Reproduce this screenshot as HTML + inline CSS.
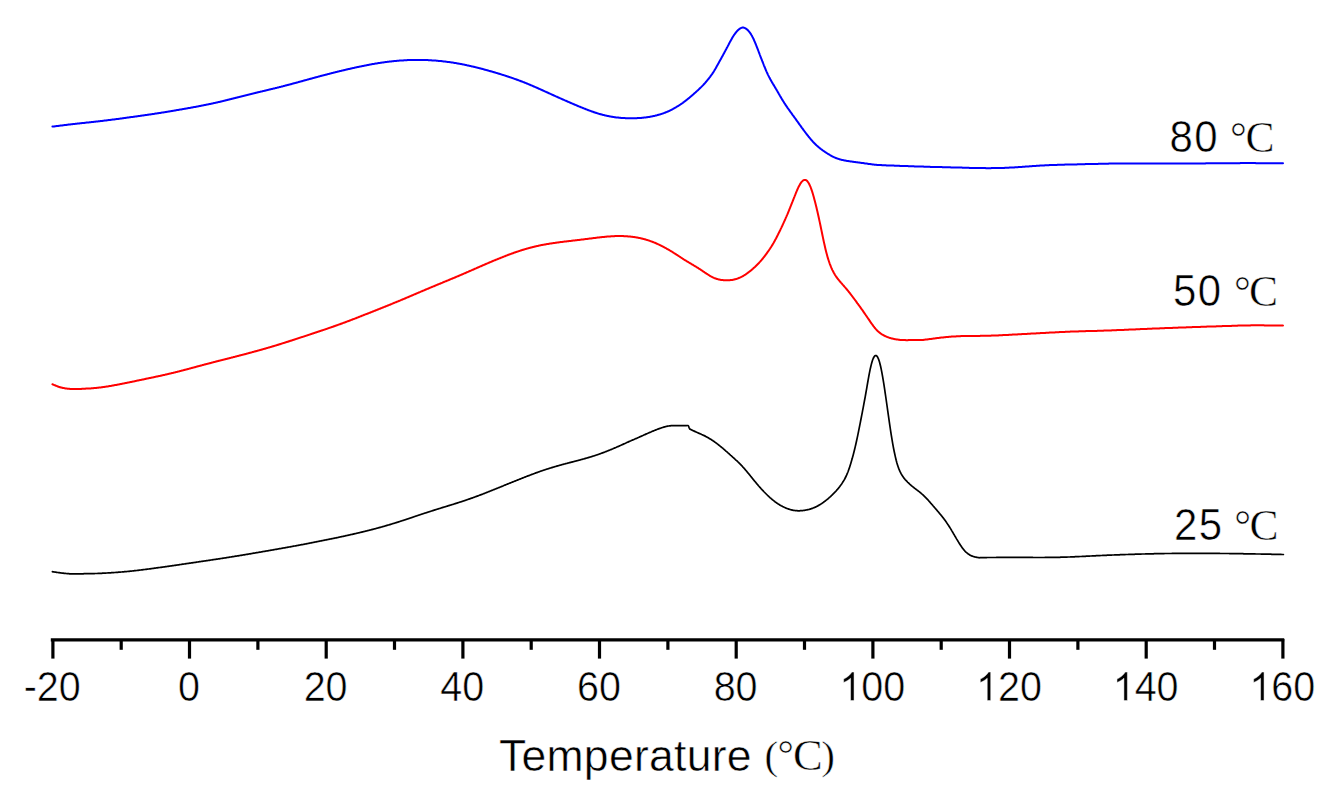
<!DOCTYPE html>
<html><head><meta charset="utf-8"><style>
html,body{margin:0;padding:0;background:#fff;}
body{width:1334px;height:805px;overflow:hidden;}
svg{display:block;}
.s{font-family:"Liberation Sans",sans-serif;}
.r{font-family:"Liberation Serif",serif;}
</style></head><body>
<svg width="1334" height="805" viewBox="0 0 1334 805">
<rect width="1334" height="805" fill="#fff"/>
<g fill="none" stroke-width="2.0" stroke-linejoin="round" stroke-linecap="round">
<path stroke="#0000ff" d="M52.4,126.6 52.9,126.6 53.4,126.5 53.9,126.4 54.4,126.4 54.9,126.3 55.4,126.2 55.9,126.2 56.4,126.1 56.9,126.1 57.4,126.0 57.9,125.9 58.4,125.9 58.9,125.8 59.4,125.7 59.9,125.7 60.4,125.6 60.9,125.5 61.4,125.5 61.9,125.4 62.4,125.4 62.9,125.3 63.4,125.2 63.9,125.2 64.4,125.1 64.9,125.0 65.4,125.0 65.9,124.9 66.4,124.9 66.9,124.8 67.4,124.7 67.9,124.7 68.4,124.6 68.9,124.6 69.4,124.5 69.9,124.4 70.4,124.4 70.9,124.3 71.4,124.3 71.9,124.2 72.4,124.2 72.9,124.1 73.4,124.0 73.9,124.0 74.4,123.9 74.9,123.9 75.4,123.8 75.9,123.8 76.4,123.7 76.9,123.7 77.4,123.6 77.9,123.5 78.4,123.5 78.9,123.4 79.4,123.4 79.9,123.3 80.4,123.3 80.9,123.2 81.4,123.2 81.9,123.1 82.4,123.1 82.9,123.0 83.4,123.0 83.9,122.9 84.4,122.9 84.9,122.8 85.4,122.7 85.9,122.7 86.4,122.6 86.9,122.6 87.4,122.5 87.9,122.5 88.4,122.4 88.9,122.4 89.4,122.3 89.9,122.3 90.4,122.2 90.9,122.2 91.4,122.1 91.9,122.0 92.4,122.0 92.9,121.9 93.4,121.9 93.9,121.8 94.4,121.8 94.9,121.7 95.4,121.7 95.9,121.6 96.4,121.6 96.9,121.5 97.4,121.4 97.9,121.4 98.4,121.3 98.9,121.3 99.4,121.2 99.9,121.2 100.4,121.1 100.9,121.0 101.4,121.0 101.9,120.9 102.4,120.9 102.9,120.8 103.4,120.7 103.9,120.7 104.4,120.6 104.9,120.6 105.4,120.5 105.9,120.5 106.4,120.4 106.9,120.3 107.4,120.3 107.9,120.2 108.4,120.1 108.9,120.1 109.4,120.0 109.9,120.0 110.4,119.9 110.9,119.8 111.4,119.8 111.9,119.7 112.4,119.6 112.9,119.6 113.4,119.5 113.9,119.4 114.4,119.4 114.9,119.3 115.4,119.3 115.9,119.2 116.4,119.1 116.9,119.1 117.4,119.0 117.9,118.9 118.4,118.9 118.9,118.8 119.4,118.7 119.9,118.7 120.4,118.6 120.9,118.5 121.4,118.4 121.9,118.4 122.4,118.3 122.9,118.2 123.4,118.2 123.9,118.1 124.4,118.0 124.9,118.0 125.4,117.9 125.9,117.8 126.4,117.8 126.9,117.7 127.4,117.6 127.9,117.6 128.4,117.5 128.9,117.4 129.4,117.3 129.9,117.3 130.4,117.2 130.9,117.1 131.4,117.1 131.9,117.0 132.4,116.9 132.9,116.9 133.4,116.8 133.9,116.7 134.4,116.7 134.9,116.6 135.4,116.5 135.9,116.4 136.4,116.4 136.9,116.3 137.4,116.2 137.9,116.2 138.4,116.1 138.9,116.0 139.4,115.9 139.9,115.9 140.4,115.8 140.9,115.7 141.4,115.7 141.9,115.6 142.4,115.5 142.9,115.5 143.4,115.4 143.9,115.3 144.4,115.2 144.9,115.2 145.4,115.1 145.9,115.0 146.4,115.0 146.9,114.9 147.4,114.8 147.9,114.7 148.4,114.7 148.9,114.6 149.4,114.5 149.9,114.4 150.4,114.4 150.9,114.3 151.4,114.2 151.9,114.2 152.4,114.1 152.9,114.0 153.4,113.9 153.9,113.9 154.4,113.8 154.9,113.7 155.4,113.6 155.9,113.6 156.4,113.5 156.9,113.4 157.4,113.3 157.9,113.3 158.4,113.2 158.9,113.1 159.4,113.0 159.9,112.9 160.4,112.9 160.9,112.8 161.4,112.7 161.9,112.6 162.4,112.6 162.9,112.5 163.4,112.4 163.9,112.3 164.4,112.2 164.9,112.2 165.4,112.1 165.9,112.0 166.4,111.9 166.9,111.8 167.4,111.7 167.9,111.7 168.4,111.6 168.9,111.5 169.4,111.4 169.9,111.3 170.4,111.2 170.9,111.2 171.4,111.1 171.9,111.0 172.4,110.9 172.9,110.8 173.4,110.7 173.9,110.7 174.4,110.6 174.9,110.5 175.4,110.4 175.9,110.3 176.4,110.2 176.9,110.1 177.4,110.1 177.9,110.0 178.4,109.9 178.9,109.8 179.4,109.7 179.9,109.6 180.4,109.5 180.9,109.5 181.4,109.4 181.9,109.3 182.4,109.2 182.9,109.1 183.4,109.0 183.9,108.9 184.4,108.8 184.9,108.8 185.4,108.7 185.9,108.6 186.4,108.5 186.9,108.4 187.4,108.3 187.9,108.2 188.4,108.1 188.9,108.1 189.4,108.0 189.9,107.9 190.4,107.8 190.9,107.7 191.4,107.6 191.9,107.5 192.4,107.4 192.9,107.3 193.4,107.2 193.9,107.1 194.4,107.1 194.9,107.0 195.4,106.9 195.9,106.8 196.4,106.7 196.9,106.6 197.4,106.5 197.9,106.4 198.4,106.3 198.9,106.2 199.4,106.1 199.9,106.0 200.4,105.9 200.9,105.8 201.4,105.7 201.9,105.6 202.4,105.5 202.9,105.4 203.4,105.3 203.9,105.2 204.4,105.1 204.9,105.0 205.4,104.9 205.9,104.8 206.4,104.7 206.9,104.6 207.4,104.5 207.9,104.4 208.4,104.3 208.9,104.2 209.4,104.1 209.9,104.0 210.4,103.9 210.9,103.8 211.4,103.7 211.9,103.6 212.4,103.5 212.9,103.4 213.4,103.2 213.9,103.1 214.4,103.0 214.9,102.9 215.4,102.8 215.9,102.7 216.4,102.6 216.9,102.5 217.4,102.4 217.9,102.2 218.4,102.1 218.9,102.0 219.4,101.9 219.9,101.8 220.4,101.7 220.9,101.5 221.4,101.4 221.9,101.3 222.4,101.2 222.9,101.1 223.4,100.9 223.9,100.8 224.4,100.7 224.9,100.6 225.4,100.5 225.9,100.3 226.4,100.2 226.9,100.1 227.4,100.0 227.9,99.8 228.4,99.7 228.9,99.6 229.4,99.5 229.9,99.3 230.4,99.2 230.9,99.1 231.4,99.0 231.9,98.8 232.4,98.7 232.9,98.6 233.4,98.5 233.9,98.3 234.4,98.2 234.9,98.1 235.4,98.0 235.9,97.8 236.4,97.7 236.9,97.6 237.4,97.5 237.9,97.3 238.4,97.2 238.9,97.1 239.4,96.9 239.9,96.8 240.4,96.7 240.9,96.6 241.4,96.4 241.9,96.3 242.4,96.2 242.9,96.1 243.4,95.9 243.9,95.8 244.4,95.7 244.9,95.6 245.4,95.4 245.9,95.3 246.4,95.2 246.9,95.1 247.4,94.9 247.9,94.8 248.4,94.7 248.9,94.6 249.4,94.4 249.9,94.3 250.4,94.2 250.9,94.1 251.4,93.9 251.9,93.8 252.4,93.7 252.9,93.6 253.4,93.4 253.9,93.3 254.4,93.2 254.9,93.1 255.4,93.0 255.9,92.8 256.4,92.7 256.9,92.6 257.4,92.5 257.9,92.3 258.4,92.2 258.9,92.1 259.4,92.0 259.9,91.9 260.4,91.7 260.9,91.6 261.4,91.5 261.9,91.4 262.4,91.3 262.9,91.1 263.4,91.0 263.9,90.9 264.4,90.8 264.9,90.7 265.4,90.5 265.9,90.4 266.4,90.3 266.9,90.2 267.4,90.1 267.9,89.9 268.4,89.8 268.9,89.7 269.4,89.6 269.9,89.5 270.4,89.3 270.9,89.2 271.4,89.1 271.9,89.0 272.4,88.9 272.9,88.7 273.4,88.6 273.9,88.5 274.4,88.4 274.9,88.3 275.4,88.1 275.9,88.0 276.4,87.9 276.9,87.8 277.4,87.6 277.9,87.5 278.4,87.4 278.9,87.3 279.4,87.1 279.9,87.0 280.4,86.9 280.9,86.8 281.4,86.6 281.9,86.5 282.4,86.4 282.9,86.3 283.4,86.1 283.9,86.0 284.4,85.9 284.9,85.7 285.4,85.6 285.9,85.5 286.4,85.3 286.9,85.2 287.4,85.1 287.9,85.0 288.4,84.8 288.9,84.7 289.4,84.6 289.9,84.4 290.4,84.3 290.9,84.2 291.4,84.0 291.9,83.9 292.4,83.7 292.9,83.6 293.4,83.5 293.9,83.3 294.4,83.2 294.9,83.1 295.4,82.9 295.9,82.8 296.4,82.7 296.9,82.5 297.4,82.4 297.9,82.3 298.4,82.1 298.9,82.0 299.4,81.8 299.9,81.7 300.4,81.6 300.9,81.4 301.4,81.3 301.9,81.2 302.4,81.0 302.9,80.9 303.4,80.7 303.9,80.6 304.4,80.5 304.9,80.3 305.4,80.2 305.9,80.1 306.4,79.9 306.9,79.8 307.4,79.6 307.9,79.5 308.4,79.4 308.9,79.2 309.4,79.1 309.9,79.0 310.4,78.8 310.9,78.7 311.4,78.5 311.9,78.4 312.4,78.3 312.9,78.1 313.4,78.0 313.9,77.9 314.4,77.7 314.9,77.6 315.4,77.5 315.9,77.3 316.4,77.2 316.9,77.1 317.4,76.9 317.9,76.8 318.4,76.6 318.9,76.5 319.4,76.4 319.9,76.2 320.4,76.1 320.9,76.0 321.4,75.8 321.9,75.7 322.4,75.6 322.9,75.4 323.4,75.3 323.9,75.2 324.4,75.1 324.9,74.9 325.4,74.8 325.9,74.7 326.4,74.5 326.9,74.4 327.4,74.3 327.9,74.1 328.4,74.0 328.9,73.9 329.4,73.8 329.9,73.6 330.4,73.5 330.9,73.4 331.4,73.2 331.9,73.1 332.4,73.0 332.9,72.9 333.4,72.7 333.9,72.6 334.4,72.5 334.9,72.4 335.4,72.2 335.9,72.1 336.4,72.0 336.9,71.9 337.4,71.7 337.9,71.6 338.4,71.5 338.9,71.4 339.4,71.2 339.9,71.1 340.4,71.0 340.9,70.9 341.4,70.8 341.9,70.6 342.4,70.5 342.9,70.4 343.4,70.3 343.9,70.2 344.4,70.0 344.9,69.9 345.4,69.8 345.9,69.7 346.4,69.6 346.9,69.5 347.4,69.3 347.9,69.2 348.4,69.1 348.9,69.0 349.4,68.9 349.9,68.8 350.4,68.7 350.9,68.5 351.4,68.4 351.9,68.3 352.4,68.2 352.9,68.1 353.4,68.0 353.9,67.9 354.4,67.8 354.9,67.6 355.4,67.5 355.9,67.4 356.4,67.3 356.9,67.2 357.4,67.1 357.9,67.0 358.4,66.9 358.9,66.8 359.4,66.7 359.9,66.6 360.4,66.5 360.9,66.4 361.4,66.3 361.9,66.2 362.4,66.1 362.9,66.0 363.4,65.9 363.9,65.8 364.4,65.7 364.9,65.6 365.4,65.5 365.9,65.4 366.4,65.3 366.9,65.2 367.4,65.1 367.9,65.0 368.4,64.9 368.9,64.8 369.4,64.7 369.9,64.6 370.4,64.5 370.9,64.4 371.4,64.3 371.9,64.2 372.4,64.1 372.9,64.0 373.4,64.0 373.9,63.9 374.4,63.8 374.9,63.7 375.4,63.6 375.9,63.5 376.4,63.4 376.9,63.4 377.4,63.3 377.9,63.2 378.4,63.1 378.9,63.0 379.4,63.0 379.9,62.9 380.4,62.8 380.9,62.7 381.4,62.7 381.9,62.6 382.4,62.5 382.9,62.4 383.4,62.4 383.9,62.3 384.4,62.2 384.9,62.2 385.4,62.1 385.9,62.0 386.4,62.0 386.9,61.9 387.4,61.8 387.9,61.8 388.4,61.7 388.9,61.7 389.4,61.6 389.9,61.5 390.4,61.5 390.9,61.4 391.4,61.4 391.9,61.3 392.4,61.3 392.9,61.2 393.4,61.2 393.9,61.1 394.4,61.1 394.9,61.0 395.4,61.0 395.9,60.9 396.4,60.9 396.9,60.8 397.4,60.8 397.9,60.8 398.4,60.7 398.9,60.7 399.4,60.6 399.9,60.6 400.4,60.6 400.9,60.5 401.4,60.5 401.9,60.5 402.4,60.4 402.9,60.4 403.4,60.4 403.9,60.3 404.4,60.3 404.9,60.3 405.4,60.2 405.9,60.2 406.4,60.2 406.9,60.2 407.4,60.1 407.9,60.1 408.4,60.1 408.9,60.1 409.4,60.1 409.9,60.0 410.4,60.0 410.9,60.0 411.4,60.0 411.9,60.0 412.4,60.0 412.9,60.0 413.4,59.9 413.9,59.9 414.4,59.9 414.9,59.9 415.4,59.9 415.9,59.9 416.4,59.9 416.9,59.9 417.4,59.9 417.9,59.9 418.4,59.9 418.9,59.9 419.4,59.9 419.9,59.9 420.4,59.9 420.9,59.9 421.4,59.9 421.9,59.9 422.4,60.0 422.9,60.0 423.4,60.0 423.9,60.0 424.4,60.0 424.9,60.0 425.4,60.0 425.9,60.1 426.4,60.1 426.9,60.1 427.4,60.1 427.9,60.1 428.4,60.2 428.9,60.2 429.4,60.2 429.9,60.2 430.4,60.3 430.9,60.3 431.4,60.3 431.9,60.4 432.4,60.4 432.9,60.4 433.4,60.5 433.9,60.5 434.4,60.5 434.9,60.6 435.4,60.6 435.9,60.6 436.4,60.7 436.9,60.7 437.4,60.8 437.9,60.8 438.4,60.9 438.9,60.9 439.4,60.9 439.9,61.0 440.4,61.0 440.9,61.1 441.4,61.1 441.9,61.2 442.4,61.3 442.9,61.3 443.4,61.4 443.9,61.4 444.4,61.5 444.9,61.5 445.4,61.6 445.9,61.7 446.4,61.7 446.9,61.8 447.4,61.9 447.9,61.9 448.4,62.0 448.9,62.1 449.4,62.1 449.9,62.2 450.4,62.3 450.9,62.3 451.4,62.4 451.9,62.5 452.4,62.6 452.9,62.6 453.4,62.7 453.9,62.8 454.4,62.9 454.9,63.0 455.4,63.0 455.9,63.1 456.4,63.2 456.9,63.3 457.4,63.4 457.9,63.5 458.4,63.6 458.9,63.7 459.4,63.8 459.9,63.8 460.4,63.9 460.9,64.0 461.4,64.1 461.9,64.2 462.4,64.3 462.9,64.4 463.4,64.5 463.9,64.6 464.4,64.7 464.9,64.8 465.4,64.9 465.9,65.0 466.4,65.1 466.9,65.3 467.4,65.4 467.9,65.5 468.4,65.6 468.9,65.7 469.4,65.8 469.9,65.9 470.4,66.0 470.9,66.1 471.4,66.3 471.9,66.4 472.4,66.5 472.9,66.6 473.4,66.7 473.9,66.8 474.4,67.0 474.9,67.1 475.4,67.2 475.9,67.3 476.4,67.4 476.9,67.6 477.4,67.7 477.9,67.8 478.4,67.9 478.9,68.1 479.4,68.2 479.9,68.3 480.4,68.5 480.9,68.6 481.4,68.7 481.9,68.8 482.4,69.0 482.9,69.1 483.4,69.2 483.9,69.4 484.4,69.5 484.9,69.7 485.4,69.8 485.9,69.9 486.4,70.1 486.9,70.2 487.4,70.3 487.9,70.5 488.4,70.6 488.9,70.8 489.4,70.9 489.9,71.0 490.4,71.2 490.9,71.3 491.4,71.5 491.9,71.6 492.4,71.7 492.9,71.9 493.4,72.0 493.9,72.2 494.4,72.3 494.9,72.5 495.4,72.6 495.9,72.8 496.4,72.9 496.9,73.1 497.4,73.2 497.9,73.4 498.4,73.5 498.9,73.7 499.4,73.8 499.9,74.0 500.4,74.1 500.9,74.3 501.4,74.4 501.9,74.6 502.4,74.8 502.9,74.9 503.4,75.1 503.9,75.2 504.4,75.4 504.9,75.6 505.4,75.7 505.9,75.9 506.4,76.0 506.9,76.2 507.4,76.4 507.9,76.5 508.4,76.7 508.9,76.9 509.4,77.0 509.9,77.2 510.4,77.4 510.9,77.6 511.4,77.7 511.9,77.9 512.4,78.1 512.9,78.2 513.4,78.4 513.9,78.6 514.4,78.8 514.9,78.9 515.4,79.1 515.9,79.3 516.4,79.5 516.9,79.7 517.4,79.8 517.9,80.0 518.4,80.2 518.9,80.4 519.4,80.6 519.9,80.8 520.4,81.0 520.9,81.2 521.4,81.3 521.9,81.5 522.4,81.7 522.9,81.9 523.4,82.1 523.9,82.3 524.4,82.5 524.9,82.7 525.4,82.9 525.9,83.1 526.4,83.3 526.9,83.5 527.4,83.7 527.9,83.9 528.4,84.1 528.9,84.3 529.4,84.6 529.9,84.8 530.4,85.0 530.9,85.2 531.4,85.4 531.9,85.6 532.4,85.8 532.9,86.0 533.4,86.3 533.9,86.5 534.4,86.7 534.9,86.9 535.4,87.1 535.9,87.3 536.4,87.6 536.9,87.8 537.4,88.0 537.9,88.2 538.4,88.5 538.9,88.7 539.4,88.9 539.9,89.1 540.4,89.3 540.9,89.6 541.4,89.8 541.9,90.0 542.4,90.2 542.9,90.5 543.4,90.7 543.9,90.9 544.4,91.2 544.9,91.4 545.4,91.6 545.9,91.8 546.4,92.1 546.9,92.3 547.4,92.5 547.9,92.7 548.4,93.0 548.9,93.2 549.4,93.4 549.9,93.6 550.4,93.9 550.9,94.1 551.4,94.3 551.9,94.6 552.4,94.8 552.9,95.0 553.4,95.2 553.9,95.5 554.4,95.7 554.9,95.9 555.4,96.1 555.9,96.4 556.4,96.6 556.9,96.8 557.4,97.0 557.9,97.3 558.4,97.5 558.9,97.7 559.4,97.9 559.9,98.1 560.4,98.4 560.9,98.6 561.4,98.8 561.9,99.0 562.4,99.3 562.9,99.5 563.4,99.7 563.9,99.9 564.4,100.1 564.9,100.4 565.4,100.6 565.9,100.8 566.4,101.0 566.9,101.2 567.4,101.5 567.9,101.7 568.4,101.9 568.9,102.1 569.4,102.3 569.9,102.5 570.4,102.8 570.9,103.0 571.4,103.2 571.9,103.4 572.4,103.6 572.9,103.8 573.4,104.1 573.9,104.3 574.4,104.5 574.9,104.7 575.4,104.9 575.9,105.1 576.4,105.3 576.9,105.5 577.4,105.8 577.9,106.0 578.4,106.2 578.9,106.4 579.4,106.6 579.9,106.8 580.4,107.0 580.9,107.2 581.4,107.4 581.9,107.6 582.4,107.8 582.9,108.0 583.4,108.2 583.9,108.4 584.4,108.6 584.9,108.8 585.4,109.0 585.9,109.2 586.4,109.4 586.9,109.6 587.4,109.8 587.9,110.0 588.4,110.2 588.9,110.4 589.4,110.6 589.9,110.7 590.4,110.9 590.9,111.1 591.4,111.3 591.9,111.5 592.4,111.6 592.9,111.8 593.4,112.0 593.9,112.2 594.4,112.3 594.9,112.5 595.4,112.7 595.9,112.8 596.4,113.0 596.9,113.1 597.4,113.3 597.9,113.4 598.4,113.6 598.9,113.8 599.4,113.9 599.9,114.0 600.4,114.2 600.9,114.3 601.4,114.5 601.9,114.6 602.4,114.7 602.9,114.9 603.4,115.0 603.9,115.1 604.4,115.2 604.9,115.4 605.4,115.5 605.9,115.6 606.4,115.7 606.9,115.8 607.4,115.9 607.9,116.0 608.4,116.1 608.9,116.2 609.4,116.3 609.9,116.4 610.4,116.5 610.9,116.6 611.4,116.7 611.9,116.8 612.4,116.8 612.9,116.9 613.4,117.0 613.9,117.1 614.4,117.2 614.9,117.2 615.4,117.3 615.9,117.4 616.4,117.4 616.9,117.5 617.4,117.5 617.9,117.6 618.4,117.6 618.9,117.7 619.4,117.7 619.9,117.8 620.4,117.8 620.9,117.9 621.4,117.9 621.9,118.0 622.4,118.0 622.9,118.0 623.4,118.1 623.9,118.1 624.4,118.1 624.9,118.1 625.4,118.2 625.9,118.2 626.4,118.2 626.9,118.2 627.4,118.2 627.9,118.3 628.4,118.3 628.9,118.3 629.4,118.3 629.9,118.3 630.4,118.3 630.9,118.3 631.4,118.3 631.9,118.3 632.4,118.3 632.9,118.3 633.4,118.3 633.9,118.3 634.4,118.3 634.9,118.2 635.4,118.2 635.9,118.2 636.4,118.2 636.9,118.2 637.4,118.1 637.9,118.1 638.4,118.1 638.9,118.1 639.4,118.0 639.9,118.0 640.4,118.0 640.9,117.9 641.4,117.9 641.9,117.8 642.4,117.8 642.9,117.7 643.4,117.7 643.9,117.6 644.4,117.6 644.9,117.5 645.4,117.4 645.9,117.4 646.4,117.3 646.9,117.2 647.4,117.2 647.9,117.1 648.4,117.0 648.9,116.9 649.4,116.9 649.9,116.8 650.4,116.7 650.9,116.6 651.4,116.5 651.9,116.4 652.4,116.3 652.9,116.2 653.4,116.1 653.9,116.0 654.4,115.9 654.9,115.8 655.4,115.6 655.9,115.5 656.4,115.4 656.9,115.3 657.4,115.1 657.9,115.0 658.4,114.8 658.9,114.7 659.4,114.6 659.9,114.4 660.4,114.3 660.9,114.1 661.4,113.9 661.9,113.8 662.4,113.6 662.9,113.4 663.4,113.3 663.9,113.1 664.4,112.9 664.9,112.7 665.4,112.5 665.9,112.3 666.4,112.1 666.9,111.9 667.4,111.7 667.9,111.5 668.4,111.3 668.9,111.1 669.4,110.8 669.9,110.6 670.4,110.3 670.9,110.1 671.4,109.8 671.9,109.6 672.4,109.3 672.9,109.0 673.4,108.7 673.9,108.5 674.4,108.2 674.9,107.9 675.4,107.6 675.9,107.3 676.4,107.0 676.9,106.7 677.4,106.4 677.9,106.1 678.4,105.8 678.9,105.5 679.4,105.1 679.9,104.8 680.4,104.5 680.9,104.2 681.4,103.8 681.9,103.5 682.4,103.1 682.9,102.8 683.4,102.4 683.9,102.0 684.4,101.7 684.9,101.3 685.4,100.9 685.9,100.5 686.4,100.1 686.9,99.7 687.4,99.3 687.9,98.9 688.4,98.5 688.9,98.1 689.4,97.7 689.9,97.3 690.4,96.9 690.9,96.4 691.4,96.0 691.9,95.6 692.4,95.1 692.9,94.7 693.4,94.3 693.9,93.8 694.4,93.4 694.9,92.9 695.4,92.5 695.9,92.0 696.4,91.6 696.9,91.1 697.4,90.6 697.9,90.2 698.4,89.7 698.9,89.3 699.4,88.8 699.9,88.3 700.4,87.9 700.9,87.4 701.4,86.9 701.9,86.4 702.4,85.9 702.9,85.4 703.4,84.8 703.9,84.3 704.4,83.7 704.9,83.2 705.4,82.6 705.9,82.0 706.4,81.4 706.9,80.8 707.4,80.2 707.9,79.6 708.4,79.0 708.9,78.4 709.4,77.7 709.9,77.1 710.4,76.4 710.9,75.7 711.4,75.0 711.9,74.3 712.4,73.6 712.9,72.8 713.4,72.1 713.9,71.3 714.4,70.5 714.9,69.6 715.4,68.8 715.9,67.9 716.4,67.0 716.9,66.1 717.4,65.2 717.9,64.3 718.4,63.4 718.9,62.5 719.4,61.6 719.9,60.7 720.4,59.8 720.9,58.9 721.4,58.0 721.9,57.1 722.4,56.2 722.9,55.3 723.4,54.3 723.9,53.4 724.4,52.5 724.9,51.6 725.4,50.6 725.9,49.7 726.4,48.8 726.9,47.8 727.4,46.9 727.9,45.9 728.4,45.0 728.9,44.0 729.4,43.1 729.9,42.1 730.4,41.2 730.9,40.3 731.4,39.4 731.9,38.5 732.4,37.6 732.9,36.8 733.4,36.0 733.9,35.2 734.4,34.5 734.9,33.8 735.4,33.1 735.9,32.5 736.4,31.9 736.9,31.3 737.4,30.8 737.9,30.3 738.4,29.8 738.9,29.4 739.4,29.0 739.9,28.6 740.4,28.3 740.9,28.1 741.4,27.9 741.9,27.7 742.4,27.6 742.9,27.6 743.4,27.6 743.9,27.7 744.4,27.9 744.9,28.1 745.4,28.3 745.9,28.6 746.4,29.0 746.9,29.4 747.4,29.8 747.9,30.3 748.4,30.8 748.9,31.4 749.4,32.0 749.9,32.7 750.4,33.4 750.9,34.1 751.4,35.0 751.9,35.8 752.4,36.8 752.9,37.7 753.4,38.8 753.9,39.8 754.4,41.0 754.9,42.1 755.4,43.3 755.9,44.5 756.4,45.8 756.9,47.1 757.4,48.4 757.9,49.7 758.4,51.0 758.9,52.3 759.4,53.6 759.9,55.0 760.4,56.3 760.9,57.6 761.4,58.9 761.9,60.2 762.4,61.5 762.9,62.7 763.4,64.0 763.9,65.3 764.4,66.5 764.9,67.7 765.4,69.0 765.9,70.1 766.4,71.3 766.9,72.4 767.4,73.5 767.9,74.6 768.4,75.6 768.9,76.6 769.4,77.6 769.9,78.5 770.4,79.4 770.9,80.3 771.4,81.2 771.9,82.1 772.4,82.9 772.9,83.8 773.4,84.6 773.9,85.4 774.4,86.2 774.9,87.1 775.4,87.9 775.9,88.8 776.4,89.6 776.9,90.5 777.4,91.3 777.9,92.2 778.4,93.1 778.9,94.0 779.4,94.8 779.9,95.7 780.4,96.5 780.9,97.4 781.4,98.2 781.9,99.1 782.4,99.9 782.9,100.7 783.4,101.5 783.9,102.3 784.4,103.1 784.9,103.8 785.4,104.6 785.9,105.4 786.4,106.1 786.9,106.8 787.4,107.6 787.9,108.3 788.4,109.0 788.9,109.7 789.4,110.4 789.9,111.1 790.4,111.8 790.9,112.5 791.4,113.2 791.9,113.9 792.4,114.6 792.9,115.3 793.4,115.9 793.9,116.6 794.4,117.3 794.9,118.0 795.4,118.7 795.9,119.4 796.4,120.1 796.9,120.8 797.4,121.5 797.9,122.2 798.4,122.9 798.9,123.6 799.4,124.3 799.9,125.0 800.4,125.7 800.9,126.4 801.4,127.1 801.9,127.8 802.4,128.4 802.9,129.1 803.4,129.8 803.9,130.5 804.4,131.2 804.9,131.8 805.4,132.5 805.9,133.2 806.4,133.8 806.9,134.5 807.4,135.1 807.9,135.7 808.4,136.4 808.9,137.0 809.4,137.6 809.9,138.2 810.4,138.8 810.9,139.4 811.4,140.0 811.9,140.5 812.4,141.1 812.9,141.7 813.4,142.2 813.9,142.7 814.4,143.2 814.9,143.7 815.4,144.2 815.9,144.7 816.4,145.2 816.9,145.6 817.4,146.1 817.9,146.5 818.4,147.0 818.9,147.4 819.4,147.8 819.9,148.2 820.4,148.6 820.9,149.0 821.4,149.3 821.9,149.7 822.4,150.1 822.9,150.5 823.4,150.8 823.9,151.2 824.4,151.5 824.9,151.9 825.4,152.2 825.9,152.5 826.4,152.9 826.9,153.2 827.4,153.5 827.9,153.8 828.4,154.1 828.9,154.4 829.4,154.7 829.9,155.0 830.4,155.3 830.9,155.6 831.4,155.9 831.9,156.2 832.4,156.4 832.9,156.7 833.4,156.9 833.9,157.1 834.4,157.4 834.9,157.6 835.4,157.8 835.9,158.0 836.4,158.2 836.9,158.4 837.4,158.6 837.9,158.7 838.4,158.9 838.9,159.1 839.4,159.2 839.9,159.4 840.4,159.5 840.9,159.6 841.4,159.8 841.9,159.9 842.4,160.0 842.9,160.1 843.4,160.2 843.9,160.3 844.4,160.4 844.9,160.5 845.4,160.6 845.9,160.7 846.4,160.8 846.9,160.9 847.4,161.0 847.9,161.0 848.4,161.1 848.9,161.2 849.4,161.3 849.9,161.3 850.4,161.4 850.9,161.5 851.4,161.6 851.9,161.6 852.4,161.7 852.9,161.8 853.4,161.8 853.9,161.9 854.4,162.0 854.9,162.0 855.4,162.1 855.9,162.2 856.4,162.2 856.9,162.3 857.4,162.3 857.9,162.4 858.4,162.5 858.9,162.5 859.4,162.6 859.9,162.7 860.4,162.7 860.9,162.8 861.4,162.9 861.9,162.9 862.4,163.0 862.9,163.1 863.4,163.1 863.9,163.2 864.4,163.3 864.9,163.4 865.4,163.4 865.9,163.5 866.4,163.6 866.9,163.6 867.4,163.7 867.9,163.8 868.4,163.9 868.9,163.9 869.4,164.0 869.9,164.1 870.4,164.1 870.9,164.2 871.4,164.3 871.9,164.3 872.4,164.4 872.9,164.5 873.4,164.5 873.9,164.6 874.4,164.7 874.9,164.7 875.4,164.8 875.9,164.8 876.4,164.8 876.9,164.9 877.4,164.9 877.9,165.0 878.4,165.0 878.9,165.0 879.4,165.0 879.9,165.1 880.4,165.1 880.9,165.1 881.4,165.1 881.9,165.2 882.4,165.2 882.9,165.2 883.4,165.2 883.9,165.3 884.4,165.3 884.9,165.3 885.4,165.3 885.9,165.3 886.4,165.4 886.9,165.4 887.4,165.4 887.9,165.4 888.4,165.4 888.9,165.5 889.4,165.5 889.9,165.5 890.4,165.5 890.9,165.5 891.4,165.6 891.9,165.6 892.4,165.6 892.9,165.6 893.4,165.6 893.9,165.6 894.4,165.7 894.9,165.7 895.4,165.7 895.9,165.7 896.4,165.7 896.9,165.8 897.4,165.8 897.9,165.8 898.4,165.8 898.9,165.8 899.4,165.8 899.9,165.9 900.4,165.9 900.9,165.9 901.4,165.9 901.9,165.9 902.4,165.9 902.9,166.0 903.4,166.0 903.9,166.0 904.4,166.0 904.9,166.0 905.4,166.0 905.9,166.1 906.4,166.1 906.9,166.1 907.4,166.1 907.9,166.1 908.4,166.2 908.9,166.2 909.4,166.2 909.9,166.2 910.4,166.2 910.9,166.2 911.4,166.3 911.9,166.3 912.4,166.3 912.9,166.3 913.4,166.3 913.9,166.3 914.4,166.4 914.9,166.4 915.4,166.4 915.9,166.4 916.4,166.4 916.9,166.4 917.4,166.5 917.9,166.5 918.4,166.5 918.9,166.5 919.4,166.5 919.9,166.5 920.4,166.6 920.9,166.6 921.4,166.6 921.9,166.6 922.4,166.6 922.9,166.6 923.4,166.6 923.9,166.7 924.4,166.7 924.9,166.7 925.4,166.7 925.9,166.7 926.4,166.7 926.9,166.8 927.4,166.8 927.9,166.8 928.4,166.8 928.9,166.8 929.4,166.8 929.9,166.8 930.4,166.9 930.9,166.9 931.4,166.9 931.9,166.9 932.4,166.9 932.9,166.9 933.4,166.9 933.9,166.9 934.4,167.0 934.9,167.0 935.4,167.0 935.9,167.0 936.4,167.0 936.9,167.0 937.4,167.0 937.9,167.0 938.4,167.1 938.9,167.1 939.4,167.1 939.9,167.1 940.4,167.1 940.9,167.1 941.4,167.1 941.9,167.1 942.4,167.2 942.9,167.2 943.4,167.2 943.9,167.2 944.4,167.2 944.9,167.2 945.4,167.2 945.9,167.2 946.4,167.2 946.9,167.3 947.4,167.3 947.9,167.3 948.4,167.3 948.9,167.3 949.4,167.3 949.9,167.3 950.4,167.3 950.9,167.4 951.4,167.4 951.9,167.4 952.4,167.4 952.9,167.4 953.4,167.4 953.9,167.4 954.4,167.4 954.9,167.5 955.4,167.5 955.9,167.5 956.4,167.5 956.9,167.5 957.4,167.5 957.9,167.5 958.4,167.6 958.9,167.6 959.4,167.6 959.9,167.6 960.4,167.6 960.9,167.6 961.4,167.6 961.9,167.6 962.4,167.7 962.9,167.7 963.4,167.7 963.9,167.7 964.4,167.7 964.9,167.7 965.4,167.7 965.9,167.8 966.4,167.8 966.9,167.8 967.4,167.8 967.9,167.8 968.4,167.8 968.9,167.8 969.4,167.9 969.9,167.9 970.4,167.9 970.9,167.9 971.4,167.9 971.9,167.9 972.4,167.9 972.9,167.9 973.4,168.0 973.9,168.0 974.4,168.0 974.9,168.0 975.4,168.0 975.9,168.0 976.4,168.0 976.9,168.0 977.4,168.0 977.9,168.1 978.4,168.1 978.9,168.1 979.4,168.1 979.9,168.1 980.4,168.1 980.9,168.1 981.4,168.1 981.9,168.1 982.4,168.1 982.9,168.1 983.4,168.1 983.9,168.1 984.4,168.1 984.9,168.1 985.4,168.1 985.9,168.2 986.4,168.2 986.9,168.2 987.4,168.2 987.9,168.2 988.4,168.2 988.9,168.2 989.4,168.2 989.9,168.2 990.4,168.2 990.9,168.2 991.4,168.1 991.9,168.1 992.4,168.1 992.9,168.1 993.4,168.1 993.9,168.1 994.4,168.1 994.9,168.1 995.4,168.1 995.9,168.1 996.4,168.1 996.9,168.1 997.4,168.1 997.9,168.1 998.4,168.0 998.9,168.0 999.4,168.0 999.9,168.0 1000.4,168.0 1000.9,168.0 1001.4,168.0 1001.9,168.0 1002.4,167.9 1002.9,167.9 1003.4,167.9 1003.9,167.9 1004.4,167.9 1004.9,167.8 1005.4,167.8 1005.9,167.8 1006.4,167.8 1006.9,167.8 1007.4,167.7 1007.9,167.7 1008.4,167.7 1008.9,167.7 1009.4,167.6 1009.9,167.6 1010.4,167.6 1010.9,167.6 1011.4,167.5 1011.9,167.5 1012.4,167.5 1012.9,167.5 1013.4,167.4 1013.9,167.4 1014.4,167.4 1014.9,167.3 1015.4,167.3 1015.9,167.3 1016.4,167.2 1016.9,167.2 1017.4,167.2 1017.9,167.2 1018.4,167.1 1018.9,167.1 1019.4,167.1 1019.9,167.0 1020.4,167.0 1020.9,166.9 1021.4,166.9 1021.9,166.9 1022.4,166.8 1022.9,166.8 1023.4,166.8 1023.9,166.7 1024.4,166.7 1024.9,166.7 1025.4,166.6 1025.9,166.6 1026.4,166.6 1026.9,166.5 1027.4,166.5 1027.9,166.4 1028.4,166.4 1028.9,166.4 1029.4,166.3 1029.9,166.3 1030.4,166.3 1030.9,166.2 1031.4,166.2 1031.9,166.2 1032.4,166.1 1032.9,166.1 1033.4,166.0 1033.9,166.0 1034.4,166.0 1034.9,165.9 1035.4,165.9 1035.9,165.9 1036.4,165.8 1036.9,165.8 1037.4,165.8 1037.9,165.7 1038.4,165.7 1038.9,165.7 1039.4,165.7 1039.9,165.6 1040.4,165.6 1040.9,165.6 1041.4,165.5 1041.9,165.5 1042.4,165.5 1042.9,165.5 1043.4,165.4 1043.9,165.4 1044.4,165.4 1044.9,165.3 1045.4,165.3 1045.9,165.3 1046.4,165.3 1046.9,165.2 1047.4,165.2 1047.9,165.2 1048.4,165.2 1048.9,165.2 1049.4,165.1 1049.9,165.1 1050.4,165.1 1050.9,165.1 1051.4,165.1 1051.9,165.0 1052.4,165.0 1052.9,165.0 1053.4,165.0 1053.9,165.0 1054.4,164.9 1054.9,164.9 1055.4,164.9 1055.9,164.9 1056.4,164.9 1056.9,164.9 1057.4,164.8 1057.9,164.8 1058.4,164.8 1058.9,164.8 1059.4,164.8 1059.9,164.8 1060.4,164.8 1060.9,164.7 1061.4,164.7 1061.9,164.7 1062.4,164.7 1062.9,164.7 1063.4,164.7 1063.9,164.7 1064.4,164.7 1064.9,164.6 1065.4,164.6 1065.9,164.6 1066.4,164.6 1066.9,164.6 1067.4,164.6 1067.9,164.6 1068.4,164.6 1068.9,164.5 1069.4,164.5 1069.9,164.5 1070.4,164.5 1070.9,164.5 1071.4,164.5 1071.9,164.5 1072.4,164.5 1072.9,164.4 1073.4,164.4 1073.9,164.4 1074.4,164.4 1074.9,164.4 1075.4,164.4 1075.9,164.4 1076.4,164.4 1076.9,164.4 1077.4,164.3 1077.9,164.3 1078.4,164.3 1078.9,164.3 1079.4,164.3 1079.9,164.3 1080.4,164.3 1080.9,164.3 1081.4,164.2 1081.9,164.2 1082.4,164.2 1082.9,164.2 1083.4,164.2 1083.9,164.2 1084.4,164.2 1084.9,164.2 1085.4,164.1 1085.9,164.1 1086.4,164.1 1086.9,164.1 1087.4,164.1 1087.9,164.1 1088.4,164.1 1088.9,164.1 1089.4,164.1 1089.9,164.0 1090.4,164.0 1090.9,164.0 1091.4,164.0 1091.9,164.0 1092.4,164.0 1092.9,164.0 1093.4,164.0 1093.9,163.9 1094.4,163.9 1094.9,163.9 1095.4,163.9 1095.9,163.9 1096.4,163.9 1096.9,163.9 1097.4,163.9 1097.9,163.9 1098.4,163.8 1098.9,163.8 1099.4,163.8 1099.9,163.8 1100.4,163.8 1100.9,163.8 1101.4,163.8 1101.9,163.8 1102.4,163.8 1102.9,163.8 1103.4,163.7 1103.9,163.7 1104.4,163.7 1104.9,163.7 1105.4,163.7 1105.9,163.7 1106.4,163.7 1106.9,163.7 1107.4,163.7 1107.9,163.7 1108.4,163.7 1108.9,163.6 1109.4,163.6 1109.9,163.6 1110.4,163.6 1110.9,163.6 1111.4,163.6 1111.9,163.6 1112.4,163.6 1112.9,163.6 1113.4,163.6 1113.9,163.6 1114.4,163.6 1114.9,163.6 1115.4,163.6 1115.9,163.6 1116.4,163.5 1116.9,163.5 1117.4,163.5 1117.9,163.5 1118.4,163.5 1118.9,163.5 1119.4,163.5 1119.9,163.5 1120.4,163.5 1120.9,163.5 1121.4,163.5 1121.9,163.5 1122.4,163.5 1122.9,163.5 1123.4,163.5 1123.9,163.5 1124.4,163.5 1124.9,163.5 1125.4,163.5 1125.9,163.5 1126.4,163.5 1126.9,163.5 1127.4,163.5 1127.9,163.5 1128.4,163.5 1128.9,163.5 1129.4,163.4 1129.9,163.4 1130.4,163.4 1130.9,163.4 1131.4,163.4 1131.9,163.4 1132.4,163.4 1132.9,163.4 1133.4,163.4 1133.9,163.4 1134.4,163.4 1134.9,163.4 1135.4,163.4 1135.9,163.4 1136.4,163.4 1136.9,163.4 1137.4,163.4 1137.9,163.4 1138.4,163.4 1138.9,163.4 1139.4,163.4 1139.9,163.4 1140.4,163.4 1140.9,163.4 1141.4,163.4 1141.9,163.4 1142.4,163.4 1142.9,163.4 1143.4,163.4 1143.9,163.4 1144.4,163.4 1144.9,163.4 1145.4,163.4 1145.9,163.4 1146.4,163.4 1146.9,163.4 1147.4,163.5 1147.9,163.5 1148.4,163.5 1148.9,163.5 1149.4,163.5 1149.9,163.5 1150.4,163.5 1150.9,163.5 1151.4,163.5 1151.9,163.5 1152.4,163.5 1152.9,163.5 1153.4,163.5 1153.9,163.5 1154.4,163.5 1154.9,163.5 1155.4,163.5 1155.9,163.5 1156.4,163.5 1156.9,163.5 1157.4,163.5 1157.9,163.5 1158.4,163.5 1158.9,163.5 1159.4,163.5 1159.9,163.5 1160.4,163.5 1160.9,163.5 1161.4,163.5 1161.9,163.5 1162.4,163.5 1162.9,163.5 1163.4,163.5 1163.9,163.5 1164.4,163.5 1164.9,163.5 1165.4,163.5 1165.9,163.5 1166.4,163.5 1166.9,163.5 1167.4,163.5 1167.9,163.5 1168.4,163.5 1168.9,163.5 1169.4,163.5 1169.9,163.5 1170.4,163.5 1170.9,163.5 1171.4,163.5 1171.9,163.5 1172.4,163.5 1172.9,163.5 1173.4,163.5 1173.9,163.5 1174.4,163.5 1174.9,163.5 1175.4,163.5 1175.9,163.5 1176.4,163.5 1176.9,163.5 1177.4,163.5 1177.9,163.5 1178.4,163.5 1178.9,163.5 1179.4,163.5 1179.9,163.5 1180.4,163.5 1180.9,163.5 1181.4,163.5 1181.9,163.5 1182.4,163.5 1182.9,163.5 1183.4,163.5 1183.9,163.5 1184.4,163.5 1184.9,163.5 1185.4,163.5 1185.9,163.5 1186.4,163.5 1186.9,163.5 1187.4,163.5 1187.9,163.4 1188.4,163.4 1188.9,163.4 1189.4,163.4 1189.9,163.4 1190.4,163.4 1190.9,163.4 1191.4,163.4 1191.9,163.4 1192.4,163.4 1192.9,163.4 1193.4,163.4 1193.9,163.4 1194.4,163.4 1194.9,163.4 1195.4,163.4 1195.9,163.4 1196.4,163.4 1196.9,163.4 1197.4,163.4 1197.9,163.4 1198.4,163.4 1198.9,163.4 1199.4,163.4 1199.9,163.4 1200.4,163.4 1200.9,163.4 1201.4,163.4 1201.9,163.4 1202.4,163.4 1202.9,163.4 1203.4,163.4 1203.9,163.4 1204.4,163.4 1204.9,163.4 1205.4,163.4 1205.9,163.3 1206.4,163.3 1206.9,163.3 1207.4,163.3 1207.9,163.3 1208.4,163.3 1208.9,163.3 1209.4,163.3 1209.9,163.3 1210.4,163.3 1210.9,163.3 1211.4,163.3 1211.9,163.3 1212.4,163.3 1212.9,163.3 1213.4,163.3 1213.9,163.3 1214.4,163.3 1214.9,163.3 1215.4,163.3 1215.9,163.3 1216.4,163.3 1216.9,163.3 1217.4,163.3 1217.9,163.3 1218.4,163.3 1218.9,163.3 1219.4,163.3 1219.9,163.3 1220.4,163.2 1220.9,163.2 1221.4,163.2 1221.9,163.2 1222.4,163.2 1222.9,163.2 1223.4,163.2 1223.9,163.2 1224.4,163.2 1224.9,163.2 1225.4,163.2 1225.9,163.2 1226.4,163.2 1226.9,163.2 1227.4,163.2 1227.9,163.2 1228.4,163.2 1228.9,163.2 1229.4,163.2 1229.9,163.2 1230.4,163.2 1230.9,163.2 1231.4,163.2 1231.9,163.2 1232.4,163.2 1232.9,163.2 1233.4,163.2 1233.9,163.2 1234.4,163.2 1234.9,163.2 1235.4,163.2 1235.9,163.2 1236.4,163.2 1236.9,163.2 1237.4,163.2 1237.9,163.2 1238.4,163.2 1238.9,163.2 1239.4,163.2 1239.9,163.2 1240.4,163.1 1240.9,163.1 1241.4,163.1 1241.9,163.1 1242.4,163.1 1242.9,163.1 1243.4,163.1 1243.9,163.1 1244.4,163.1 1244.9,163.1 1245.4,163.1 1245.9,163.1 1246.4,163.1 1246.9,163.1 1247.4,163.1 1247.9,163.1 1248.4,163.1 1248.9,163.1 1249.4,163.1 1249.9,163.1 1250.4,163.1 1250.9,163.1 1251.4,163.1 1251.9,163.1 1252.4,163.1 1252.9,163.1 1253.4,163.1 1253.9,163.1 1254.4,163.1 1254.9,163.1 1255.4,163.1 1255.9,163.2 1256.4,163.2 1256.9,163.2 1257.4,163.2 1257.9,163.2 1258.4,163.2 1258.9,163.2 1259.4,163.2 1259.9,163.2 1260.4,163.2 1260.9,163.2 1261.4,163.2 1261.9,163.2 1262.4,163.2 1262.9,163.2 1263.4,163.2 1263.9,163.2 1264.4,163.2 1264.9,163.2 1265.4,163.2 1265.9,163.2 1266.4,163.2 1266.9,163.2 1267.4,163.2 1267.9,163.2 1268.4,163.2 1268.9,163.2 1269.4,163.2 1269.9,163.2 1270.4,163.2 1270.9,163.2 1271.4,163.2 1271.9,163.2 1272.4,163.2 1272.9,163.2 1273.4,163.2 1273.9,163.2 1274.4,163.2 1274.9,163.2 1275.4,163.2 1275.9,163.2 1276.4,163.2 1276.9,163.2 1277.4,163.2 1277.9,163.3 1278.4,163.3 1278.9,163.3 1279.4,163.3 1279.9,163.3 1280.4,163.3 1280.9,163.3 1281.4,163.3 1281.9,163.3 1282.4,163.3 1282.9,163.3 1283.0,163.3"/>
<path stroke="#ff0000" d="M52.4,384.2 52.9,384.5 53.4,384.7 53.9,384.9 54.4,385.1 54.9,385.3 55.4,385.5 55.9,385.7 56.4,385.9 56.9,386.1 57.4,386.3 57.9,386.5 58.4,386.7 58.9,386.9 59.4,387.0 59.9,387.2 60.4,387.3 60.9,387.5 61.4,387.6 61.9,387.7 62.4,387.8 62.9,388.0 63.4,388.1 63.9,388.1 64.4,388.2 64.9,388.3 65.4,388.4 65.9,388.5 66.4,388.5 66.9,388.6 67.4,388.7 67.9,388.7 68.4,388.8 68.9,388.8 69.4,388.8 69.9,388.9 70.4,388.9 70.9,388.9 71.4,389.0 71.9,389.0 72.4,389.0 72.9,389.0 73.4,389.1 73.9,389.1 74.4,389.1 74.9,389.1 75.4,389.1 75.9,389.1 76.4,389.1 76.9,389.1 77.4,389.1 77.9,389.0 78.4,389.0 78.9,389.0 79.4,389.0 79.9,388.9 80.4,388.9 80.9,388.9 81.4,388.9 81.9,388.8 82.4,388.8 82.9,388.8 83.4,388.7 83.9,388.7 84.4,388.7 84.9,388.7 85.4,388.7 85.9,388.6 86.4,388.6 86.9,388.6 87.4,388.6 87.9,388.6 88.4,388.5 88.9,388.5 89.4,388.5 89.9,388.4 90.4,388.4 90.9,388.4 91.4,388.3 91.9,388.3 92.4,388.3 92.9,388.2 93.4,388.2 93.9,388.1 94.4,388.1 94.9,388.0 95.4,388.0 95.9,388.0 96.4,387.9 96.9,387.8 97.4,387.8 97.9,387.7 98.4,387.7 98.9,387.6 99.4,387.6 99.9,387.5 100.4,387.4 100.9,387.4 101.4,387.3 101.9,387.2 102.4,387.2 102.9,387.1 103.4,387.0 103.9,387.0 104.4,386.9 104.9,386.8 105.4,386.7 105.9,386.7 106.4,386.6 106.9,386.5 107.4,386.4 107.9,386.4 108.4,386.3 108.9,386.2 109.4,386.1 109.9,386.0 110.4,385.9 110.9,385.9 111.4,385.8 111.9,385.7 112.4,385.6 112.9,385.5 113.4,385.4 113.9,385.3 114.4,385.2 114.9,385.1 115.4,385.1 115.9,385.0 116.4,384.9 116.9,384.8 117.4,384.7 117.9,384.6 118.4,384.5 118.9,384.4 119.4,384.3 119.9,384.2 120.4,384.1 120.9,384.0 121.4,383.9 121.9,383.8 122.4,383.7 122.9,383.6 123.4,383.5 123.9,383.4 124.4,383.3 124.9,383.2 125.4,383.1 125.9,383.0 126.4,382.9 126.9,382.8 127.4,382.7 127.9,382.6 128.4,382.5 128.9,382.4 129.4,382.3 129.9,382.2 130.4,382.1 130.9,382.0 131.4,381.9 131.9,381.8 132.4,381.7 132.9,381.6 133.4,381.5 133.9,381.4 134.4,381.3 134.9,381.2 135.4,381.1 135.9,380.9 136.4,380.8 136.9,380.7 137.4,380.6 137.9,380.5 138.4,380.4 138.9,380.3 139.4,380.2 139.9,380.1 140.4,380.0 140.9,379.9 141.4,379.8 141.9,379.7 142.4,379.6 142.9,379.5 143.4,379.4 143.9,379.3 144.4,379.2 144.9,379.1 145.4,379.0 145.9,378.8 146.4,378.7 146.9,378.6 147.4,378.5 147.9,378.4 148.4,378.3 148.9,378.2 149.4,378.1 149.9,378.0 150.4,377.9 150.9,377.8 151.4,377.7 151.9,377.6 152.4,377.5 152.9,377.4 153.4,377.3 153.9,377.2 154.4,377.1 154.9,376.9 155.4,376.8 155.9,376.7 156.4,376.6 156.9,376.5 157.4,376.4 157.9,376.3 158.4,376.2 158.9,376.1 159.4,376.0 159.9,375.9 160.4,375.8 160.9,375.7 161.4,375.5 161.9,375.4 162.4,375.3 162.9,375.2 163.4,375.1 163.9,375.0 164.4,374.9 164.9,374.8 165.4,374.6 165.9,374.5 166.4,374.4 166.9,374.3 167.4,374.2 167.9,374.1 168.4,373.9 168.9,373.8 169.4,373.7 169.9,373.6 170.4,373.5 170.9,373.4 171.4,373.2 171.9,373.1 172.4,373.0 172.9,372.9 173.4,372.8 173.9,372.6 174.4,372.5 174.9,372.4 175.4,372.3 175.9,372.1 176.4,372.0 176.9,371.9 177.4,371.8 177.9,371.6 178.4,371.5 178.9,371.4 179.4,371.3 179.9,371.1 180.4,371.0 180.9,370.9 181.4,370.7 181.9,370.6 182.4,370.5 182.9,370.4 183.4,370.2 183.9,370.1 184.4,370.0 184.9,369.8 185.4,369.7 185.9,369.6 186.4,369.4 186.9,369.3 187.4,369.2 187.9,369.0 188.4,368.9 188.9,368.8 189.4,368.6 189.9,368.5 190.4,368.4 190.9,368.2 191.4,368.1 191.9,368.0 192.4,367.8 192.9,367.7 193.4,367.6 193.9,367.4 194.4,367.3 194.9,367.2 195.4,367.0 195.9,366.9 196.4,366.7 196.9,366.6 197.4,366.5 197.9,366.3 198.4,366.2 198.9,366.1 199.4,365.9 199.9,365.8 200.4,365.7 200.9,365.5 201.4,365.4 201.9,365.3 202.4,365.1 202.9,365.0 203.4,364.9 203.9,364.7 204.4,364.6 204.9,364.5 205.4,364.3 205.9,364.2 206.4,364.1 206.9,363.9 207.4,363.8 207.9,363.7 208.4,363.6 208.9,363.4 209.4,363.3 209.9,363.2 210.4,363.0 210.9,362.9 211.4,362.8 211.9,362.6 212.4,362.5 212.9,362.4 213.4,362.2 213.9,362.1 214.4,362.0 214.9,361.9 215.4,361.7 215.9,361.6 216.4,361.5 216.9,361.3 217.4,361.2 217.9,361.1 218.4,361.0 218.9,360.8 219.4,360.7 219.9,360.6 220.4,360.4 220.9,360.3 221.4,360.2 221.9,360.1 222.4,359.9 222.9,359.8 223.4,359.7 223.9,359.6 224.4,359.4 224.9,359.3 225.4,359.2 225.9,359.0 226.4,358.9 226.9,358.8 227.4,358.7 227.9,358.5 228.4,358.4 228.9,358.3 229.4,358.2 229.9,358.0 230.4,357.9 230.9,357.8 231.4,357.6 231.9,357.5 232.4,357.4 232.9,357.3 233.4,357.1 233.9,357.0 234.4,356.9 234.9,356.8 235.4,356.6 235.9,356.5 236.4,356.4 236.9,356.2 237.4,356.1 237.9,356.0 238.4,355.9 238.9,355.7 239.4,355.6 239.9,355.5 240.4,355.3 240.9,355.2 241.4,355.1 241.9,354.9 242.4,354.8 242.9,354.7 243.4,354.6 243.9,354.4 244.4,354.3 244.9,354.2 245.4,354.0 245.9,353.9 246.4,353.8 246.9,353.6 247.4,353.5 247.9,353.4 248.4,353.2 248.9,353.1 249.4,353.0 249.9,352.8 250.4,352.7 250.9,352.6 251.4,352.4 251.9,352.3 252.4,352.1 252.9,352.0 253.4,351.9 253.9,351.7 254.4,351.6 254.9,351.5 255.4,351.3 255.9,351.2 256.4,351.0 256.9,350.9 257.4,350.8 257.9,350.6 258.4,350.5 258.9,350.4 259.4,350.2 259.9,350.1 260.4,349.9 260.9,349.8 261.4,349.7 261.9,349.5 262.4,349.4 262.9,349.2 263.4,349.1 263.9,348.9 264.4,348.8 264.9,348.7 265.4,348.5 265.9,348.4 266.4,348.2 266.9,348.1 267.4,347.9 267.9,347.8 268.4,347.6 268.9,347.5 269.4,347.4 269.9,347.2 270.4,347.1 270.9,346.9 271.4,346.8 271.9,346.6 272.4,346.5 272.9,346.3 273.4,346.2 273.9,346.0 274.4,345.9 274.9,345.7 275.4,345.6 275.9,345.4 276.4,345.3 276.9,345.1 277.4,345.0 277.9,344.8 278.4,344.7 278.9,344.5 279.4,344.3 279.9,344.2 280.4,344.0 280.9,343.9 281.4,343.7 281.9,343.6 282.4,343.4 282.9,343.2 283.4,343.1 283.9,342.9 284.4,342.8 284.9,342.6 285.4,342.5 285.9,342.3 286.4,342.1 286.9,342.0 287.4,341.8 287.9,341.7 288.4,341.5 288.9,341.3 289.4,341.2 289.9,341.0 290.4,340.8 290.9,340.7 291.4,340.5 291.9,340.4 292.4,340.2 292.9,340.0 293.4,339.9 293.9,339.7 294.4,339.5 294.9,339.4 295.4,339.2 295.9,339.1 296.4,338.9 296.9,338.7 297.4,338.6 297.9,338.4 298.4,338.2 298.9,338.1 299.4,337.9 299.9,337.7 300.4,337.6 300.9,337.4 301.4,337.2 301.9,337.1 302.4,336.9 302.9,336.8 303.4,336.6 303.9,336.4 304.4,336.3 304.9,336.1 305.4,335.9 305.9,335.8 306.4,335.6 306.9,335.4 307.4,335.3 307.9,335.1 308.4,334.9 308.9,334.8 309.4,334.6 309.9,334.4 310.4,334.3 310.9,334.1 311.4,334.0 311.9,333.8 312.4,333.6 312.9,333.5 313.4,333.3 313.9,333.1 314.4,333.0 314.9,332.8 315.4,332.6 315.9,332.5 316.4,332.3 316.9,332.1 317.4,332.0 317.9,331.8 318.4,331.6 318.9,331.5 319.4,331.3 319.9,331.1 320.4,331.0 320.9,330.8 321.4,330.6 321.9,330.5 322.4,330.3 322.9,330.1 323.4,329.9 323.9,329.8 324.4,329.6 324.9,329.4 325.4,329.3 325.9,329.1 326.4,328.9 326.9,328.8 327.4,328.6 327.9,328.4 328.4,328.2 328.9,328.1 329.4,327.9 329.9,327.7 330.4,327.6 330.9,327.4 331.4,327.2 331.9,327.0 332.4,326.9 332.9,326.7 333.4,326.5 333.9,326.3 334.4,326.2 334.9,326.0 335.4,325.8 335.9,325.6 336.4,325.5 336.9,325.3 337.4,325.1 337.9,324.9 338.4,324.7 338.9,324.6 339.4,324.4 339.9,324.2 340.4,324.0 340.9,323.8 341.4,323.7 341.9,323.5 342.4,323.3 342.9,323.1 343.4,322.9 343.9,322.7 344.4,322.5 344.9,322.4 345.4,322.2 345.9,322.0 346.4,321.8 346.9,321.6 347.4,321.4 347.9,321.2 348.4,321.0 348.9,320.9 349.4,320.7 349.9,320.5 350.4,320.3 350.9,320.1 351.4,319.9 351.9,319.7 352.4,319.5 352.9,319.3 353.4,319.1 353.9,318.9 354.4,318.8 354.9,318.6 355.4,318.4 355.9,318.2 356.4,318.0 356.9,317.8 357.4,317.6 357.9,317.4 358.4,317.2 358.9,317.0 359.4,316.8 359.9,316.6 360.4,316.4 360.9,316.2 361.4,316.0 361.9,315.8 362.4,315.6 362.9,315.4 363.4,315.2 363.9,315.0 364.4,314.8 364.9,314.6 365.4,314.4 365.9,314.2 366.4,314.1 366.9,313.9 367.4,313.7 367.9,313.5 368.4,313.3 368.9,313.1 369.4,312.9 369.9,312.7 370.4,312.5 370.9,312.3 371.4,312.1 371.9,311.9 372.4,311.7 372.9,311.5 373.4,311.3 373.9,311.1 374.4,310.9 374.9,310.7 375.4,310.5 375.9,310.3 376.4,310.1 376.9,309.9 377.4,309.7 377.9,309.5 378.4,309.3 378.9,309.1 379.4,308.9 379.9,308.7 380.4,308.5 380.9,308.3 381.4,308.1 381.9,307.9 382.4,307.7 382.9,307.5 383.4,307.3 383.9,307.1 384.4,306.9 384.9,306.7 385.4,306.5 385.9,306.3 386.4,306.1 386.9,305.9 387.4,305.7 387.9,305.5 388.4,305.3 388.9,305.1 389.4,304.9 389.9,304.7 390.4,304.5 390.9,304.3 391.4,304.1 391.9,303.9 392.4,303.6 392.9,303.4 393.4,303.2 393.9,303.0 394.4,302.8 394.9,302.6 395.4,302.4 395.9,302.2 396.4,302.0 396.9,301.8 397.4,301.6 397.9,301.4 398.4,301.2 398.9,301.0 399.4,300.8 399.9,300.6 400.4,300.4 400.9,300.1 401.4,299.9 401.9,299.7 402.4,299.5 402.9,299.3 403.4,299.1 403.9,298.9 404.4,298.7 404.9,298.5 405.4,298.3 405.9,298.0 406.4,297.8 406.9,297.6 407.4,297.4 407.9,297.2 408.4,297.0 408.9,296.8 409.4,296.6 409.9,296.3 410.4,296.1 410.9,295.9 411.4,295.7 411.9,295.5 412.4,295.3 412.9,295.1 413.4,294.8 413.9,294.6 414.4,294.4 414.9,294.2 415.4,294.0 415.9,293.8 416.4,293.6 416.9,293.3 417.4,293.1 417.9,292.9 418.4,292.7 418.9,292.5 419.4,292.3 419.9,292.1 420.4,291.9 420.9,291.6 421.4,291.4 421.9,291.2 422.4,291.0 422.9,290.8 423.4,290.6 423.9,290.4 424.4,290.2 424.9,290.0 425.4,289.7 425.9,289.5 426.4,289.3 426.9,289.1 427.4,288.9 427.9,288.7 428.4,288.5 428.9,288.3 429.4,288.1 429.9,287.8 430.4,287.6 430.9,287.4 431.4,287.2 431.9,287.0 432.4,286.8 432.9,286.6 433.4,286.4 433.9,286.2 434.4,286.0 434.9,285.8 435.4,285.6 435.9,285.3 436.4,285.1 436.9,284.9 437.4,284.7 437.9,284.5 438.4,284.3 438.9,284.1 439.4,283.9 439.9,283.7 440.4,283.5 440.9,283.3 441.4,283.1 441.9,282.9 442.4,282.7 442.9,282.4 443.4,282.2 443.9,282.0 444.4,281.8 444.9,281.6 445.4,281.4 445.9,281.2 446.4,281.0 446.9,280.8 447.4,280.6 447.9,280.4 448.4,280.2 448.9,280.0 449.4,279.8 449.9,279.5 450.4,279.3 450.9,279.1 451.4,278.9 451.9,278.7 452.4,278.5 452.9,278.3 453.4,278.1 453.9,277.9 454.4,277.7 454.9,277.5 455.4,277.3 455.9,277.0 456.4,276.8 456.9,276.6 457.4,276.4 457.9,276.2 458.4,276.0 458.9,275.8 459.4,275.6 459.9,275.3 460.4,275.1 460.9,274.9 461.4,274.7 461.9,274.5 462.4,274.3 462.9,274.1 463.4,273.8 463.9,273.6 464.4,273.4 464.9,273.2 465.4,273.0 465.9,272.8 466.4,272.5 466.9,272.3 467.4,272.1 467.9,271.9 468.4,271.7 468.9,271.4 469.4,271.2 469.9,271.0 470.4,270.8 470.9,270.6 471.4,270.4 471.9,270.1 472.4,269.9 472.9,269.7 473.4,269.5 473.9,269.3 474.4,269.0 474.9,268.8 475.4,268.6 475.9,268.4 476.4,268.2 476.9,267.9 477.4,267.7 477.9,267.5 478.4,267.3 478.9,267.1 479.4,266.8 479.9,266.6 480.4,266.4 480.9,266.2 481.4,266.0 481.9,265.8 482.4,265.5 482.9,265.3 483.4,265.1 483.9,264.9 484.4,264.7 484.9,264.5 485.4,264.2 485.9,264.0 486.4,263.8 486.9,263.6 487.4,263.4 487.9,263.2 488.4,262.9 488.9,262.7 489.4,262.5 489.9,262.3 490.4,262.1 490.9,261.9 491.4,261.7 491.9,261.5 492.4,261.2 492.9,261.0 493.4,260.8 493.9,260.6 494.4,260.4 494.9,260.2 495.4,260.0 495.9,259.8 496.4,259.6 496.9,259.4 497.4,259.2 497.9,259.0 498.4,258.8 498.9,258.6 499.4,258.4 499.9,258.2 500.4,258.0 500.9,257.8 501.4,257.6 501.9,257.4 502.4,257.2 502.9,257.0 503.4,256.8 503.9,256.6 504.4,256.4 504.9,256.2 505.4,256.0 505.9,255.8 506.4,255.6 506.9,255.4 507.4,255.2 507.9,255.0 508.4,254.8 508.9,254.6 509.4,254.5 509.9,254.3 510.4,254.1 510.9,253.9 511.4,253.7 511.9,253.5 512.4,253.4 512.9,253.2 513.4,253.0 513.9,252.8 514.4,252.6 514.9,252.5 515.4,252.3 515.9,252.1 516.4,252.0 516.9,251.8 517.4,251.6 517.9,251.4 518.4,251.3 518.9,251.1 519.4,250.9 519.9,250.8 520.4,250.6 520.9,250.5 521.4,250.3 521.9,250.1 522.4,250.0 522.9,249.8 523.4,249.7 523.9,249.5 524.4,249.4 524.9,249.2 525.4,249.1 525.9,248.9 526.4,248.8 526.9,248.6 527.4,248.5 527.9,248.4 528.4,248.2 528.9,248.1 529.4,247.9 529.9,247.8 530.4,247.7 530.9,247.5 531.4,247.4 531.9,247.3 532.4,247.2 532.9,247.0 533.4,246.9 533.9,246.8 534.4,246.7 534.9,246.5 535.4,246.4 535.9,246.3 536.4,246.2 536.9,246.1 537.4,246.0 537.9,245.9 538.4,245.8 538.9,245.6 539.4,245.5 539.9,245.4 540.4,245.3 540.9,245.2 541.4,245.1 541.9,245.0 542.4,244.9 542.9,244.8 543.4,244.7 543.9,244.7 544.4,244.6 544.9,244.5 545.4,244.4 545.9,244.3 546.4,244.2 546.9,244.1 547.4,244.0 547.9,244.0 548.4,243.9 548.9,243.8 549.4,243.7 549.9,243.6 550.4,243.5 550.9,243.5 551.4,243.4 551.9,243.3 552.4,243.2 552.9,243.2 553.4,243.1 553.9,243.0 554.4,242.9 554.9,242.9 555.4,242.8 555.9,242.7 556.4,242.7 556.9,242.6 557.4,242.5 557.9,242.5 558.4,242.4 558.9,242.3 559.4,242.3 559.9,242.2 560.4,242.1 560.9,242.1 561.4,242.0 561.9,241.9 562.4,241.9 562.9,241.8 563.4,241.8 563.9,241.7 564.4,241.6 564.9,241.6 565.4,241.5 565.9,241.5 566.4,241.4 566.9,241.3 567.4,241.3 567.9,241.2 568.4,241.2 568.9,241.1 569.4,241.0 569.9,241.0 570.4,240.9 570.9,240.9 571.4,240.8 571.9,240.7 572.4,240.7 572.9,240.6 573.4,240.6 573.9,240.5 574.4,240.5 574.9,240.4 575.4,240.3 575.9,240.3 576.4,240.2 576.9,240.2 577.4,240.1 577.9,240.0 578.4,240.0 578.9,239.9 579.4,239.9 579.9,239.8 580.4,239.7 580.9,239.7 581.4,239.6 581.9,239.6 582.4,239.5 582.9,239.4 583.4,239.4 583.9,239.3 584.4,239.3 584.9,239.2 585.4,239.1 585.9,239.1 586.4,239.0 586.9,238.9 587.4,238.9 587.9,238.8 588.4,238.8 588.9,238.7 589.4,238.6 589.9,238.6 590.4,238.5 590.9,238.4 591.4,238.4 591.9,238.3 592.4,238.2 592.9,238.2 593.4,238.1 593.9,238.1 594.4,238.0 594.9,237.9 595.4,237.9 595.9,237.8 596.4,237.8 596.9,237.7 597.4,237.6 597.9,237.6 598.4,237.5 598.9,237.5 599.4,237.4 599.9,237.3 600.4,237.3 600.9,237.2 601.4,237.2 601.9,237.1 602.4,237.1 602.9,237.0 603.4,237.0 603.9,236.9 604.4,236.9 604.9,236.8 605.4,236.8 605.9,236.7 606.4,236.7 606.9,236.6 607.4,236.6 607.9,236.6 608.4,236.5 608.9,236.5 609.4,236.4 609.9,236.4 610.4,236.4 610.9,236.3 611.4,236.3 611.9,236.3 612.4,236.3 612.9,236.2 613.4,236.2 613.9,236.2 614.4,236.2 614.9,236.1 615.4,236.1 615.9,236.1 616.4,236.1 616.9,236.1 617.4,236.1 617.9,236.1 618.4,236.1 618.9,236.1 619.4,236.1 619.9,236.1 620.4,236.1 620.9,236.1 621.4,236.1 621.9,236.1 622.4,236.1 622.9,236.1 623.4,236.1 623.9,236.2 624.4,236.2 624.9,236.2 625.4,236.2 625.9,236.3 626.4,236.3 626.9,236.3 627.4,236.3 627.9,236.4 628.4,236.4 628.9,236.5 629.4,236.5 629.9,236.6 630.4,236.6 630.9,236.7 631.4,236.7 631.9,236.8 632.4,236.8 632.9,236.9 633.4,237.0 633.9,237.0 634.4,237.1 634.9,237.2 635.4,237.3 635.9,237.3 636.4,237.4 636.9,237.5 637.4,237.6 637.9,237.7 638.4,237.8 638.9,237.9 639.4,238.0 639.9,238.1 640.4,238.2 640.9,238.3 641.4,238.4 641.9,238.5 642.4,238.7 642.9,238.8 643.4,238.9 643.9,239.1 644.4,239.2 644.9,239.3 645.4,239.5 645.9,239.6 646.4,239.8 646.9,239.9 647.4,240.1 647.9,240.2 648.4,240.4 648.9,240.6 649.4,240.7 649.9,240.9 650.4,241.1 650.9,241.3 651.4,241.4 651.9,241.6 652.4,241.8 652.9,242.0 653.4,242.2 653.9,242.4 654.4,242.6 654.9,242.8 655.4,243.0 655.9,243.2 656.4,243.5 656.9,243.7 657.4,243.9 657.9,244.1 658.4,244.4 658.9,244.6 659.4,244.8 659.9,245.1 660.4,245.3 660.9,245.6 661.4,245.8 661.9,246.1 662.4,246.3 662.9,246.6 663.4,246.8 663.9,247.1 664.4,247.4 664.9,247.7 665.4,247.9 665.9,248.2 666.4,248.5 666.9,248.8 667.4,249.1 667.9,249.3 668.4,249.6 668.9,249.9 669.4,250.2 669.9,250.5 670.4,250.8 670.9,251.1 671.4,251.4 671.9,251.7 672.4,252.0 672.9,252.3 673.4,252.7 673.9,253.0 674.4,253.3 674.9,253.6 675.4,253.9 675.9,254.2 676.4,254.6 676.9,254.9 677.4,255.2 677.9,255.5 678.4,255.9 678.9,256.2 679.4,256.5 679.9,256.8 680.4,257.2 680.9,257.5 681.4,257.8 681.9,258.2 682.4,258.5 682.9,258.8 683.4,259.2 683.9,259.5 684.4,259.8 684.9,260.1 685.4,260.4 685.9,260.7 686.4,261.0 686.9,261.3 687.4,261.6 687.9,261.9 688.4,262.2 688.9,262.5 689.4,262.8 689.9,263.1 690.4,263.4 690.9,263.7 691.4,264.0 691.9,264.3 692.4,264.6 692.9,264.8 693.4,265.1 693.9,265.5 694.4,265.8 694.9,266.1 695.4,266.4 695.9,266.7 696.4,267.0 696.9,267.3 697.4,267.6 697.9,267.9 698.4,268.2 698.9,268.6 699.4,268.9 699.9,269.2 700.4,269.5 700.9,269.9 701.4,270.2 701.9,270.5 702.4,270.9 702.9,271.2 703.4,271.6 703.9,271.9 704.4,272.2 704.9,272.6 705.4,272.9 705.9,273.2 706.4,273.6 706.9,273.9 707.4,274.2 707.9,274.5 708.4,274.8 708.9,275.2 709.4,275.5 709.9,275.8 710.4,276.1 710.9,276.4 711.4,276.6 711.9,276.9 712.4,277.2 712.9,277.4 713.4,277.6 713.9,277.9 714.4,278.1 714.9,278.3 715.4,278.5 715.9,278.6 716.4,278.8 716.9,279.0 717.4,279.1 717.9,279.2 718.4,279.4 718.9,279.5 719.4,279.6 719.9,279.7 720.4,279.8 720.9,279.9 721.4,280.0 721.9,280.0 722.4,280.1 722.9,280.1 723.4,280.2 723.9,280.2 724.4,280.2 724.9,280.3 725.4,280.3 725.9,280.3 726.4,280.3 726.9,280.3 727.4,280.3 727.9,280.3 728.4,280.3 728.9,280.2 729.4,280.2 729.9,280.2 730.4,280.1 730.9,280.1 731.4,280.0 731.9,279.9 732.4,279.9 732.9,279.8 733.4,279.7 733.9,279.6 734.4,279.5 734.9,279.3 735.4,279.2 735.9,279.1 736.4,278.9 736.9,278.8 737.4,278.6 737.9,278.4 738.4,278.2 738.9,278.0 739.4,277.8 739.9,277.6 740.4,277.4 740.9,277.1 741.4,276.9 741.9,276.6 742.4,276.4 742.9,276.1 743.4,275.8 743.9,275.5 744.4,275.2 744.9,274.9 745.4,274.6 745.9,274.2 746.4,273.9 746.9,273.5 747.4,273.2 747.9,272.8 748.4,272.4 748.9,272.0 749.4,271.7 749.9,271.3 750.4,270.9 750.9,270.5 751.4,270.0 751.9,269.6 752.4,269.2 752.9,268.8 753.4,268.3 753.9,267.9 754.4,267.4 754.9,267.0 755.4,266.5 755.9,266.0 756.4,265.5 756.9,265.0 757.4,264.5 757.9,264.0 758.4,263.5 758.9,263.0 759.4,262.4 759.9,261.9 760.4,261.3 760.9,260.7 761.4,260.2 761.9,259.6 762.4,259.0 762.9,258.4 763.4,257.7 763.9,257.1 764.4,256.5 764.9,255.8 765.4,255.1 765.9,254.5 766.4,253.8 766.9,253.1 767.4,252.4 767.9,251.7 768.4,251.0 768.9,250.3 769.4,249.5 769.9,248.8 770.4,248.0 770.9,247.3 771.4,246.5 771.9,245.7 772.4,244.9 772.9,244.0 773.4,243.2 773.9,242.3 774.4,241.4 774.9,240.5 775.4,239.6 775.9,238.7 776.4,237.7 776.9,236.7 777.4,235.7 777.9,234.8 778.4,233.8 778.9,232.7 779.4,231.7 779.9,230.7 780.4,229.7 780.9,228.6 781.4,227.6 781.9,226.5 782.4,225.5 782.9,224.4 783.4,223.3 783.9,222.2 784.4,221.1 784.9,220.0 785.4,218.9 785.9,217.7 786.4,216.6 786.9,215.4 787.4,214.3 787.9,213.1 788.4,211.9 788.9,210.7 789.4,209.4 789.9,208.2 790.4,206.9 790.9,205.7 791.4,204.4 791.9,203.1 792.4,201.9 792.9,200.6 793.4,199.3 793.9,198.0 794.4,196.8 794.9,195.5 795.4,194.3 795.9,193.0 796.4,191.8 796.9,190.7 797.4,189.5 797.9,188.4 798.4,187.3 798.9,186.3 799.4,185.4 799.9,184.5 800.4,183.6 800.9,182.9 801.4,182.2 801.9,181.6 802.4,181.1 802.9,180.6 803.4,180.3 803.9,180.1 804.4,179.9 804.9,179.9 805.4,180.0 805.9,180.1 806.4,180.4 806.9,180.8 807.4,181.3 807.9,182.0 808.4,182.7 808.9,183.5 809.4,184.5 809.9,185.6 810.4,186.7 810.9,188.0 811.4,189.4 811.9,190.8 812.4,192.4 812.9,194.0 813.4,195.7 813.9,197.5 814.4,199.4 814.9,201.3 815.4,203.2 815.9,205.2 816.4,207.3 816.9,209.4 817.4,211.5 817.9,213.7 818.4,216.0 818.9,218.3 819.4,220.6 819.9,222.9 820.4,225.3 820.9,227.7 821.4,230.1 821.9,232.5 822.4,235.0 822.9,237.4 823.4,239.7 823.9,242.1 824.4,244.3 824.9,246.5 825.4,248.7 825.9,250.7 826.4,252.7 826.9,254.6 827.4,256.4 827.9,258.1 828.4,259.7 828.9,261.2 829.4,262.7 829.9,264.1 830.4,265.4 830.9,266.7 831.4,267.9 831.9,269.0 832.4,270.1 832.9,271.1 833.4,272.0 833.9,273.0 834.4,273.8 834.9,274.7 835.4,275.5 835.9,276.2 836.4,277.0 836.9,277.6 837.4,278.3 837.9,279.0 838.4,279.6 838.9,280.2 839.4,280.8 839.9,281.4 840.4,282.0 840.9,282.6 841.4,283.1 841.9,283.7 842.4,284.3 842.9,284.9 843.4,285.4 843.9,286.0 844.4,286.6 844.9,287.1 845.4,287.7 845.9,288.3 846.4,288.9 846.9,289.5 847.4,290.1 847.9,290.7 848.4,291.3 848.9,292.0 849.4,292.6 849.9,293.2 850.4,293.9 850.9,294.5 851.4,295.2 851.9,295.8 852.4,296.5 852.9,297.2 853.4,297.8 853.9,298.5 854.4,299.2 854.9,299.8 855.4,300.5 855.9,301.2 856.4,301.9 856.9,302.6 857.4,303.3 857.9,303.9 858.4,304.6 858.9,305.3 859.4,306.0 859.9,306.7 860.4,307.4 860.9,308.1 861.4,308.8 861.9,309.5 862.4,310.2 862.9,310.9 863.4,311.6 863.9,312.4 864.4,313.1 864.9,313.8 865.4,314.5 865.9,315.3 866.4,316.0 866.9,316.7 867.4,317.5 867.9,318.2 868.4,318.9 868.9,319.7 869.4,320.4 869.9,321.1 870.4,321.9 870.9,322.6 871.4,323.3 871.9,324.0 872.4,324.7 872.9,325.4 873.4,326.1 873.9,326.7 874.4,327.4 874.9,328.0 875.4,328.6 875.9,329.1 876.4,329.7 876.9,330.2 877.4,330.7 877.9,331.2 878.4,331.6 878.9,332.1 879.4,332.5 879.9,332.9 880.4,333.3 880.9,333.6 881.4,334.0 881.9,334.3 882.4,334.6 882.9,334.9 883.4,335.2 883.9,335.5 884.4,335.7 884.9,336.0 885.4,336.2 885.9,336.4 886.4,336.6 886.9,336.9 887.4,337.1 887.9,337.2 888.4,337.4 888.9,337.6 889.4,337.8 889.9,337.9 890.4,338.1 890.9,338.2 891.4,338.4 891.9,338.5 892.4,338.6 892.9,338.7 893.4,338.8 893.9,338.9 894.4,339.1 894.9,339.2 895.4,339.2 895.9,339.3 896.4,339.4 896.9,339.5 897.4,339.6 897.9,339.6 898.4,339.7 898.9,339.8 899.4,339.8 899.9,339.9 900.4,339.9 900.9,339.9 901.4,340.0 901.9,340.0 902.4,340.0 902.9,340.1 903.4,340.1 903.9,340.1 904.4,340.1 904.9,340.1 905.4,340.1 905.9,340.2 906.4,340.2 906.9,340.2 907.4,340.2 907.9,340.2 908.4,340.1 908.9,340.1 909.4,340.1 909.9,340.1 910.4,340.1 910.9,340.1 911.4,340.1 911.9,340.1 912.4,340.1 912.9,340.1 913.4,340.1 913.9,340.1 914.4,340.0 914.9,340.0 915.4,340.0 915.9,340.0 916.4,340.0 916.9,340.1 917.4,340.1 917.9,340.1 918.4,340.1 918.9,340.1 919.4,340.1 919.9,340.1 920.4,340.1 920.9,340.0 921.4,340.0 921.9,340.0 922.4,340.0 922.9,339.9 923.4,339.9 923.9,339.8 924.4,339.8 924.9,339.7 925.4,339.6 925.9,339.6 926.4,339.5 926.9,339.4 927.4,339.4 927.9,339.3 928.4,339.3 928.9,339.2 929.4,339.1 929.9,339.1 930.4,339.0 930.9,338.9 931.4,338.9 931.9,338.8 932.4,338.7 932.9,338.7 933.4,338.6 933.9,338.5 934.4,338.5 934.9,338.4 935.4,338.3 935.9,338.3 936.4,338.2 936.9,338.1 937.4,338.1 937.9,338.0 938.4,337.9 938.9,337.9 939.4,337.8 939.9,337.8 940.4,337.7 940.9,337.6 941.4,337.6 941.9,337.5 942.4,337.5 942.9,337.4 943.4,337.4 943.9,337.3 944.4,337.3 944.9,337.2 945.4,337.2 945.9,337.1 946.4,337.1 946.9,337.0 947.4,337.0 947.9,336.9 948.4,336.9 948.9,336.8 949.4,336.8 949.9,336.8 950.4,336.7 950.9,336.7 951.4,336.6 951.9,336.6 952.4,336.6 952.9,336.5 953.4,336.5 953.9,336.5 954.4,336.4 954.9,336.4 955.4,336.4 955.9,336.4 956.4,336.3 956.9,336.3 957.4,336.3 957.9,336.3 958.4,336.2 958.9,336.2 959.4,336.2 959.9,336.2 960.4,336.2 960.9,336.1 961.4,336.1 961.9,336.1 962.4,336.1 962.9,336.1 963.4,336.1 963.9,336.1 964.4,336.0 964.9,336.0 965.4,336.0 965.9,336.0 966.4,336.0 966.9,336.0 967.4,336.0 967.9,336.0 968.4,336.0 968.9,336.0 969.4,336.0 969.9,335.9 970.4,335.9 970.9,335.9 971.4,335.9 971.9,335.9 972.4,335.9 972.9,335.9 973.4,335.9 973.9,335.9 974.4,335.9 974.9,335.9 975.4,335.9 975.9,335.9 976.4,335.9 976.9,335.9 977.4,335.9 977.9,335.9 978.4,335.9 978.9,335.9 979.4,335.9 979.9,335.9 980.4,335.8 980.9,335.8 981.4,335.8 981.9,335.8 982.4,335.8 982.9,335.8 983.4,335.8 983.9,335.8 984.4,335.8 984.9,335.8 985.4,335.8 985.9,335.8 986.4,335.8 986.9,335.8 987.4,335.7 987.9,335.7 988.4,335.7 988.9,335.7 989.4,335.7 989.9,335.7 990.4,335.7 990.9,335.7 991.4,335.6 991.9,335.6 992.4,335.6 992.9,335.6 993.4,335.6 993.9,335.6 994.4,335.5 994.9,335.5 995.4,335.5 995.9,335.5 996.4,335.5 996.9,335.4 997.4,335.4 997.9,335.4 998.4,335.4 998.9,335.3 999.4,335.3 999.9,335.3 1000.4,335.3 1000.9,335.2 1001.4,335.2 1001.9,335.2 1002.4,335.2 1002.9,335.1 1003.4,335.1 1003.9,335.1 1004.4,335.1 1004.9,335.0 1005.4,335.0 1005.9,335.0 1006.4,335.0 1006.9,334.9 1007.4,334.9 1007.9,334.9 1008.4,334.9 1008.9,334.8 1009.4,334.8 1009.9,334.8 1010.4,334.7 1010.9,334.7 1011.4,334.7 1011.9,334.7 1012.4,334.6 1012.9,334.6 1013.4,334.6 1013.9,334.6 1014.4,334.5 1014.9,334.5 1015.4,334.5 1015.9,334.4 1016.4,334.4 1016.9,334.4 1017.4,334.4 1017.9,334.3 1018.4,334.3 1018.9,334.3 1019.4,334.3 1019.9,334.2 1020.4,334.2 1020.9,334.2 1021.4,334.2 1021.9,334.1 1022.4,334.1 1022.9,334.1 1023.4,334.0 1023.9,334.0 1024.4,334.0 1024.9,334.0 1025.4,333.9 1025.9,333.9 1026.4,333.9 1026.9,333.9 1027.4,333.8 1027.9,333.8 1028.4,333.8 1028.9,333.7 1029.4,333.7 1029.9,333.7 1030.4,333.7 1030.9,333.6 1031.4,333.6 1031.9,333.6 1032.4,333.6 1032.9,333.5 1033.4,333.5 1033.9,333.5 1034.4,333.5 1034.9,333.4 1035.4,333.4 1035.9,333.4 1036.4,333.3 1036.9,333.3 1037.4,333.3 1037.9,333.3 1038.4,333.2 1038.9,333.2 1039.4,333.2 1039.9,333.2 1040.4,333.1 1040.9,333.1 1041.4,333.1 1041.9,333.0 1042.4,333.0 1042.9,333.0 1043.4,333.0 1043.9,332.9 1044.4,332.9 1044.9,332.9 1045.4,332.9 1045.9,332.8 1046.4,332.8 1046.9,332.8 1047.4,332.8 1047.9,332.7 1048.4,332.7 1048.9,332.7 1049.4,332.6 1049.9,332.6 1050.4,332.6 1050.9,332.6 1051.4,332.5 1051.9,332.5 1052.4,332.5 1052.9,332.5 1053.4,332.4 1053.9,332.4 1054.4,332.4 1054.9,332.4 1055.4,332.3 1055.9,332.3 1056.4,332.3 1056.9,332.3 1057.4,332.2 1057.9,332.2 1058.4,332.2 1058.9,332.2 1059.4,332.1 1059.9,332.1 1060.4,332.1 1060.9,332.1 1061.4,332.0 1061.9,332.0 1062.4,332.0 1062.9,332.0 1063.4,331.9 1063.9,331.9 1064.4,331.9 1064.9,331.9 1065.4,331.8 1065.9,331.8 1066.4,331.8 1066.9,331.8 1067.4,331.8 1067.9,331.7 1068.4,331.7 1068.9,331.7 1069.4,331.7 1069.9,331.7 1070.4,331.6 1070.9,331.6 1071.4,331.6 1071.9,331.6 1072.4,331.6 1072.9,331.5 1073.4,331.5 1073.9,331.5 1074.4,331.5 1074.9,331.5 1075.4,331.5 1075.9,331.4 1076.4,331.4 1076.9,331.4 1077.4,331.4 1077.9,331.4 1078.4,331.4 1078.9,331.3 1079.4,331.3 1079.9,331.3 1080.4,331.3 1080.9,331.3 1081.4,331.3 1081.9,331.2 1082.4,331.2 1082.9,331.2 1083.4,331.2 1083.9,331.2 1084.4,331.2 1084.9,331.2 1085.4,331.2 1085.9,331.1 1086.4,331.1 1086.9,331.1 1087.4,331.1 1087.9,331.1 1088.4,331.1 1088.9,331.1 1089.4,331.1 1089.9,331.0 1090.4,331.0 1090.9,331.0 1091.4,331.0 1091.9,331.0 1092.4,331.0 1092.9,331.0 1093.4,330.9 1093.9,330.9 1094.4,330.9 1094.9,330.9 1095.4,330.9 1095.9,330.9 1096.4,330.9 1096.9,330.9 1097.4,330.8 1097.9,330.8 1098.4,330.8 1098.9,330.8 1099.4,330.8 1099.9,330.8 1100.4,330.8 1100.9,330.7 1101.4,330.7 1101.9,330.7 1102.4,330.7 1102.9,330.7 1103.4,330.7 1103.9,330.6 1104.4,330.6 1104.9,330.6 1105.4,330.6 1105.9,330.6 1106.4,330.6 1106.9,330.5 1107.4,330.5 1107.9,330.5 1108.4,330.5 1108.9,330.5 1109.4,330.4 1109.9,330.4 1110.4,330.4 1110.9,330.4 1111.4,330.4 1111.9,330.3 1112.4,330.3 1112.9,330.3 1113.4,330.3 1113.9,330.3 1114.4,330.3 1114.9,330.2 1115.4,330.2 1115.9,330.2 1116.4,330.2 1116.9,330.1 1117.4,330.1 1117.9,330.1 1118.4,330.1 1118.9,330.1 1119.4,330.0 1119.9,330.0 1120.4,330.0 1120.9,330.0 1121.4,330.0 1121.9,329.9 1122.4,329.9 1122.9,329.9 1123.4,329.9 1123.9,329.9 1124.4,329.8 1124.9,329.8 1125.4,329.8 1125.9,329.8 1126.4,329.7 1126.9,329.7 1127.4,329.7 1127.9,329.7 1128.4,329.7 1128.9,329.6 1129.4,329.6 1129.9,329.6 1130.4,329.6 1130.9,329.6 1131.4,329.5 1131.9,329.5 1132.4,329.5 1132.9,329.5 1133.4,329.4 1133.9,329.4 1134.4,329.4 1134.9,329.4 1135.4,329.4 1135.9,329.3 1136.4,329.3 1136.9,329.3 1137.4,329.3 1137.9,329.2 1138.4,329.2 1138.9,329.2 1139.4,329.2 1139.9,329.2 1140.4,329.1 1140.9,329.1 1141.4,329.1 1141.9,329.1 1142.4,329.1 1142.9,329.0 1143.4,329.0 1143.9,329.0 1144.4,329.0 1144.9,329.0 1145.4,328.9 1145.9,328.9 1146.4,328.9 1146.9,328.9 1147.4,328.8 1147.9,328.8 1148.4,328.8 1148.9,328.8 1149.4,328.8 1149.9,328.7 1150.4,328.7 1150.9,328.7 1151.4,328.7 1151.9,328.7 1152.4,328.6 1152.9,328.6 1153.4,328.6 1153.9,328.6 1154.4,328.6 1154.9,328.5 1155.4,328.5 1155.9,328.5 1156.4,328.5 1156.9,328.5 1157.4,328.4 1157.9,328.4 1158.4,328.4 1158.9,328.4 1159.4,328.4 1159.9,328.3 1160.4,328.3 1160.9,328.3 1161.4,328.3 1161.9,328.3 1162.4,328.2 1162.9,328.2 1163.4,328.2 1163.9,328.2 1164.4,328.2 1164.9,328.1 1165.4,328.1 1165.9,328.1 1166.4,328.1 1166.9,328.1 1167.4,328.0 1167.9,328.0 1168.4,328.0 1168.9,328.0 1169.4,328.0 1169.9,328.0 1170.4,327.9 1170.9,327.9 1171.4,327.9 1171.9,327.9 1172.4,327.9 1172.9,327.8 1173.4,327.8 1173.9,327.8 1174.4,327.8 1174.9,327.8 1175.4,327.7 1175.9,327.7 1176.4,327.7 1176.9,327.7 1177.4,327.7 1177.9,327.7 1178.4,327.6 1178.9,327.6 1179.4,327.6 1179.9,327.6 1180.4,327.6 1180.9,327.5 1181.4,327.5 1181.9,327.5 1182.4,327.5 1182.9,327.5 1183.4,327.5 1183.9,327.4 1184.4,327.4 1184.9,327.4 1185.4,327.4 1185.9,327.4 1186.4,327.3 1186.9,327.3 1187.4,327.3 1187.9,327.3 1188.4,327.3 1188.9,327.3 1189.4,327.2 1189.9,327.2 1190.4,327.2 1190.9,327.2 1191.4,327.2 1191.9,327.2 1192.4,327.1 1192.9,327.1 1193.4,327.1 1193.9,327.1 1194.4,327.1 1194.9,327.0 1195.4,327.0 1195.9,327.0 1196.4,327.0 1196.9,327.0 1197.4,327.0 1197.9,326.9 1198.4,326.9 1198.9,326.9 1199.4,326.9 1199.9,326.9 1200.4,326.9 1200.9,326.8 1201.4,326.8 1201.9,326.8 1202.4,326.8 1202.9,326.8 1203.4,326.8 1203.9,326.7 1204.4,326.7 1204.9,326.7 1205.4,326.7 1205.9,326.7 1206.4,326.7 1206.9,326.6 1207.4,326.6 1207.9,326.6 1208.4,326.6 1208.9,326.6 1209.4,326.6 1209.9,326.5 1210.4,326.5 1210.9,326.5 1211.4,326.5 1211.9,326.5 1212.4,326.5 1212.9,326.5 1213.4,326.4 1213.9,326.4 1214.4,326.4 1214.9,326.4 1215.4,326.4 1215.9,326.4 1216.4,326.3 1216.9,326.3 1217.4,326.3 1217.9,326.3 1218.4,326.3 1218.9,326.3 1219.4,326.2 1219.9,326.2 1220.4,326.2 1220.9,326.2 1221.4,326.2 1221.9,326.2 1222.4,326.1 1222.9,326.1 1223.4,326.1 1223.9,326.1 1224.4,326.1 1224.9,326.1 1225.4,326.1 1225.9,326.0 1226.4,326.0 1226.9,326.0 1227.4,326.0 1227.9,326.0 1228.4,326.0 1228.9,325.9 1229.4,325.9 1229.9,325.9 1230.4,325.9 1230.9,325.9 1231.4,325.9 1231.9,325.8 1232.4,325.8 1232.9,325.8 1233.4,325.8 1233.9,325.8 1234.4,325.8 1234.9,325.7 1235.4,325.7 1235.9,325.7 1236.4,325.7 1236.9,325.7 1237.4,325.7 1237.9,325.6 1238.4,325.6 1238.9,325.6 1239.4,325.6 1239.9,325.6 1240.4,325.6 1240.9,325.6 1241.4,325.5 1241.9,325.5 1242.4,325.5 1242.9,325.5 1243.4,325.5 1243.9,325.5 1244.4,325.5 1244.9,325.5 1245.4,325.4 1245.9,325.4 1246.4,325.4 1246.9,325.4 1247.4,325.4 1247.9,325.4 1248.4,325.4 1248.9,325.4 1249.4,325.4 1249.9,325.4 1250.4,325.4 1250.9,325.3 1251.4,325.3 1251.9,325.3 1252.4,325.3 1252.9,325.3 1253.4,325.3 1253.9,325.3 1254.4,325.3 1254.9,325.3 1255.4,325.3 1255.9,325.3 1256.4,325.3 1256.9,325.3 1257.4,325.3 1257.9,325.3 1258.4,325.3 1258.9,325.3 1259.4,325.3 1259.9,325.3 1260.4,325.3 1260.9,325.3 1261.4,325.3 1261.9,325.3 1262.4,325.3 1262.9,325.3 1263.4,325.3 1263.9,325.3 1264.4,325.4 1264.9,325.4 1265.4,325.4 1265.9,325.4 1266.4,325.4 1266.9,325.4 1267.4,325.4 1267.9,325.4 1268.4,325.4 1268.9,325.4 1269.4,325.4 1269.9,325.4 1270.4,325.4 1270.9,325.4 1271.4,325.4 1271.9,325.4 1272.4,325.4 1272.9,325.4 1273.4,325.4 1273.9,325.4 1274.4,325.5 1274.9,325.5 1275.4,325.5 1275.9,325.5 1276.4,325.5 1276.9,325.5 1277.4,325.5 1277.9,325.5 1278.4,325.5 1278.9,325.5 1279.4,325.5 1279.9,325.5 1280.4,325.5 1280.9,325.5 1281.4,325.5 1281.9,325.5 1282.4,325.5 1282.9,325.6 1283.0,325.6"/>
<path stroke="#000000" stroke-width="1.7" d="M52.4,571.7 52.9,571.8 53.4,571.9 53.9,571.9 54.4,572.0 54.9,572.1 55.4,572.2 55.9,572.2 56.4,572.3 56.9,572.4 57.4,572.5 57.9,572.5 58.4,572.6 58.9,572.7 59.4,572.7 59.9,572.8 60.4,572.9 60.9,572.9 61.4,573.0 61.9,573.1 62.4,573.1 62.9,573.2 63.4,573.2 63.9,573.3 64.4,573.3 64.9,573.4 65.4,573.4 65.9,573.5 66.4,573.5 66.9,573.6 67.4,573.6 67.9,573.7 68.4,573.7 68.9,573.7 69.4,573.8 69.9,573.8 70.4,573.8 70.9,573.8 71.4,573.9 71.9,573.9 72.4,573.9 72.9,573.9 73.4,573.9 73.9,573.9 74.4,573.9 74.9,573.9 75.4,573.9 75.9,573.9 76.4,573.9 76.9,573.9 77.4,573.9 77.9,573.9 78.4,573.9 78.9,573.9 79.4,573.8 79.9,573.8 80.4,573.8 80.9,573.8 81.4,573.8 81.9,573.8 82.4,573.8 82.9,573.8 83.4,573.8 83.9,573.7 84.4,573.7 84.9,573.7 85.4,573.7 85.9,573.7 86.4,573.7 86.9,573.7 87.4,573.7 87.9,573.7 88.4,573.7 88.9,573.7 89.4,573.7 89.9,573.7 90.4,573.7 90.9,573.7 91.4,573.6 91.9,573.6 92.4,573.6 92.9,573.6 93.4,573.6 93.9,573.6 94.4,573.6 94.9,573.5 95.4,573.5 95.9,573.5 96.4,573.5 96.9,573.5 97.4,573.5 97.9,573.4 98.4,573.4 98.9,573.4 99.4,573.4 99.9,573.4 100.4,573.3 100.9,573.3 101.4,573.3 101.9,573.3 102.4,573.2 102.9,573.2 103.4,573.2 103.9,573.2 104.4,573.1 104.9,573.1 105.4,573.1 105.9,573.1 106.4,573.0 106.9,573.0 107.4,573.0 107.9,572.9 108.4,572.9 108.9,572.9 109.4,572.9 109.9,572.8 110.4,572.8 110.9,572.8 111.4,572.7 111.9,572.7 112.4,572.7 112.9,572.6 113.4,572.6 113.9,572.6 114.4,572.5 114.9,572.5 115.4,572.5 115.9,572.4 116.4,572.4 116.9,572.4 117.4,572.3 117.9,572.3 118.4,572.2 118.9,572.2 119.4,572.2 119.9,572.1 120.4,572.1 120.9,572.0 121.4,572.0 121.9,572.0 122.4,571.9 122.9,571.9 123.4,571.8 123.9,571.8 124.4,571.7 124.9,571.7 125.4,571.7 125.9,571.6 126.4,571.6 126.9,571.5 127.4,571.5 127.9,571.4 128.4,571.4 128.9,571.3 129.4,571.3 129.9,571.2 130.4,571.2 130.9,571.1 131.4,571.1 131.9,571.0 132.4,571.0 132.9,570.9 133.4,570.8 133.9,570.8 134.4,570.7 134.9,570.7 135.4,570.6 135.9,570.6 136.4,570.5 136.9,570.5 137.4,570.4 137.9,570.3 138.4,570.3 138.9,570.2 139.4,570.2 139.9,570.1 140.4,570.0 140.9,570.0 141.4,569.9 141.9,569.8 142.4,569.8 142.9,569.7 143.4,569.7 143.9,569.6 144.4,569.5 144.9,569.5 145.4,569.4 145.9,569.3 146.4,569.3 146.9,569.2 147.4,569.1 147.9,569.1 148.4,569.0 148.9,569.0 149.4,568.9 149.9,568.8 150.4,568.8 150.9,568.7 151.4,568.6 151.9,568.6 152.4,568.5 152.9,568.4 153.4,568.4 153.9,568.3 154.4,568.2 154.9,568.2 155.4,568.1 155.9,568.0 156.4,567.9 156.9,567.9 157.4,567.8 157.9,567.7 158.4,567.7 158.9,567.6 159.4,567.5 159.9,567.5 160.4,567.4 160.9,567.3 161.4,567.3 161.9,567.2 162.4,567.1 162.9,567.1 163.4,567.0 163.9,566.9 164.4,566.8 164.9,566.8 165.4,566.7 165.9,566.6 166.4,566.6 166.9,566.5 167.4,566.4 167.9,566.3 168.4,566.3 168.9,566.2 169.4,566.1 169.9,566.1 170.4,566.0 170.9,565.9 171.4,565.8 171.9,565.8 172.4,565.7 172.9,565.6 173.4,565.6 173.9,565.5 174.4,565.4 174.9,565.3 175.4,565.3 175.9,565.2 176.4,565.1 176.9,565.1 177.4,565.0 177.9,564.9 178.4,564.8 178.9,564.8 179.4,564.7 179.9,564.6 180.4,564.5 180.9,564.5 181.4,564.4 181.9,564.3 182.4,564.2 182.9,564.2 183.4,564.1 183.9,564.0 184.4,564.0 184.9,563.9 185.4,563.8 185.9,563.7 186.4,563.7 186.9,563.6 187.4,563.5 187.9,563.4 188.4,563.4 188.9,563.3 189.4,563.2 189.9,563.1 190.4,563.1 190.9,563.0 191.4,562.9 191.9,562.8 192.4,562.8 192.9,562.7 193.4,562.6 193.9,562.6 194.4,562.5 194.9,562.4 195.4,562.3 195.9,562.3 196.4,562.2 196.9,562.1 197.4,562.0 197.9,562.0 198.4,561.9 198.9,561.8 199.4,561.7 199.9,561.7 200.4,561.6 200.9,561.5 201.4,561.4 201.9,561.4 202.4,561.3 202.9,561.2 203.4,561.1 203.9,561.1 204.4,561.0 204.9,560.9 205.4,560.9 205.9,560.8 206.4,560.7 206.9,560.6 207.4,560.6 207.9,560.5 208.4,560.4 208.9,560.3 209.4,560.3 209.9,560.2 210.4,560.1 210.9,560.0 211.4,560.0 211.9,559.9 212.4,559.8 212.9,559.7 213.4,559.7 213.9,559.6 214.4,559.5 214.9,559.4 215.4,559.4 215.9,559.3 216.4,559.2 216.9,559.1 217.4,559.1 217.9,559.0 218.4,558.9 218.9,558.8 219.4,558.8 219.9,558.7 220.4,558.6 220.9,558.5 221.4,558.5 221.9,558.4 222.4,558.3 222.9,558.2 223.4,558.1 223.9,558.1 224.4,558.0 224.9,557.9 225.4,557.8 225.9,557.8 226.4,557.7 226.9,557.6 227.4,557.5 227.9,557.4 228.4,557.4 228.9,557.3 229.4,557.2 229.9,557.1 230.4,557.0 230.9,557.0 231.4,556.9 231.9,556.8 232.4,556.7 232.9,556.6 233.4,556.6 233.9,556.5 234.4,556.4 234.9,556.3 235.4,556.2 235.9,556.2 236.4,556.1 236.9,556.0 237.4,555.9 237.9,555.8 238.4,555.8 238.9,555.7 239.4,555.6 239.9,555.5 240.4,555.4 240.9,555.3 241.4,555.3 241.9,555.2 242.4,555.1 242.9,555.0 243.4,554.9 243.9,554.8 244.4,554.8 244.9,554.7 245.4,554.6 245.9,554.5 246.4,554.4 246.9,554.3 247.4,554.3 247.9,554.2 248.4,554.1 248.9,554.0 249.4,553.9 249.9,553.8 250.4,553.8 250.9,553.7 251.4,553.6 251.9,553.5 252.4,553.4 252.9,553.3 253.4,553.2 253.9,553.2 254.4,553.1 254.9,553.0 255.4,552.9 255.9,552.8 256.4,552.7 256.9,552.7 257.4,552.6 257.9,552.5 258.4,552.4 258.9,552.3 259.4,552.2 259.9,552.1 260.4,552.1 260.9,552.0 261.4,551.9 261.9,551.8 262.4,551.7 262.9,551.6 263.4,551.5 263.9,551.4 264.4,551.4 264.9,551.3 265.4,551.2 265.9,551.1 266.4,551.0 266.9,550.9 267.4,550.8 267.9,550.8 268.4,550.7 268.9,550.6 269.4,550.5 269.9,550.4 270.4,550.3 270.9,550.2 271.4,550.1 271.9,550.1 272.4,550.0 272.9,549.9 273.4,549.8 273.9,549.7 274.4,549.6 274.9,549.5 275.4,549.4 275.9,549.4 276.4,549.3 276.9,549.2 277.4,549.1 277.9,549.0 278.4,548.9 278.9,548.8 279.4,548.7 279.9,548.7 280.4,548.6 280.9,548.5 281.4,548.4 281.9,548.3 282.4,548.2 282.9,548.1 283.4,548.0 283.9,547.9 284.4,547.9 284.9,547.8 285.4,547.7 285.9,547.6 286.4,547.5 286.9,547.4 287.4,547.3 287.9,547.2 288.4,547.1 288.9,547.0 289.4,547.0 289.9,546.9 290.4,546.8 290.9,546.7 291.4,546.6 291.9,546.5 292.4,546.4 292.9,546.3 293.4,546.2 293.9,546.1 294.4,546.0 294.9,546.0 295.4,545.9 295.9,545.8 296.4,545.7 296.9,545.6 297.4,545.5 297.9,545.4 298.4,545.3 298.9,545.2 299.4,545.1 299.9,545.0 300.4,544.9 300.9,544.8 301.4,544.7 301.9,544.6 302.4,544.6 302.9,544.5 303.4,544.4 303.9,544.3 304.4,544.2 304.9,544.1 305.4,544.0 305.9,543.9 306.4,543.8 306.9,543.7 307.4,543.6 307.9,543.5 308.4,543.4 308.9,543.3 309.4,543.2 309.9,543.1 310.4,543.0 310.9,542.9 311.4,542.8 311.9,542.7 312.4,542.6 312.9,542.5 313.4,542.4 313.9,542.3 314.4,542.2 314.9,542.1 315.4,542.0 315.9,541.9 316.4,541.8 316.9,541.7 317.4,541.6 317.9,541.5 318.4,541.4 318.9,541.3 319.4,541.2 319.9,541.1 320.4,541.0 320.9,540.9 321.4,540.8 321.9,540.7 322.4,540.6 322.9,540.5 323.4,540.4 323.9,540.3 324.4,540.2 324.9,540.1 325.4,540.0 325.9,539.9 326.4,539.8 326.9,539.7 327.4,539.6 327.9,539.5 328.4,539.4 328.9,539.3 329.4,539.2 329.9,539.1 330.4,539.0 330.9,538.9 331.4,538.8 331.9,538.7 332.4,538.6 332.9,538.5 333.4,538.4 333.9,538.3 334.4,538.2 334.9,538.1 335.4,538.0 335.9,537.9 336.4,537.8 336.9,537.7 337.4,537.6 337.9,537.5 338.4,537.4 338.9,537.2 339.4,537.1 339.9,537.0 340.4,536.9 340.9,536.8 341.4,536.7 341.9,536.6 342.4,536.5 342.9,536.4 343.4,536.3 343.9,536.2 344.4,536.1 344.9,536.0 345.4,535.8 345.9,535.7 346.4,535.6 346.9,535.5 347.4,535.4 347.9,535.3 348.4,535.2 348.9,535.1 349.4,535.0 349.9,534.8 350.4,534.7 350.9,534.6 351.4,534.5 351.9,534.4 352.4,534.3 352.9,534.2 353.4,534.1 353.9,533.9 354.4,533.8 354.9,533.7 355.4,533.6 355.9,533.5 356.4,533.4 356.9,533.2 357.4,533.1 357.9,533.0 358.4,532.9 358.9,532.8 359.4,532.7 359.9,532.5 360.4,532.4 360.9,532.3 361.4,532.2 361.9,532.1 362.4,531.9 362.9,531.8 363.4,531.7 363.9,531.6 364.4,531.5 364.9,531.3 365.4,531.2 365.9,531.1 366.4,531.0 366.9,530.8 367.4,530.7 367.9,530.6 368.4,530.5 368.9,530.3 369.4,530.2 369.9,530.1 370.4,530.0 370.9,529.8 371.4,529.7 371.9,529.6 372.4,529.4 372.9,529.3 373.4,529.2 373.9,529.0 374.4,528.9 374.9,528.8 375.4,528.7 375.9,528.5 376.4,528.4 376.9,528.2 377.4,528.1 377.9,528.0 378.4,527.8 378.9,527.7 379.4,527.6 379.9,527.4 380.4,527.3 380.9,527.2 381.4,527.0 381.9,526.9 382.4,526.7 382.9,526.6 383.4,526.5 383.9,526.3 384.4,526.2 384.9,526.0 385.4,525.9 385.9,525.7 386.4,525.6 386.9,525.4 387.4,525.3 387.9,525.1 388.4,525.0 388.9,524.9 389.4,524.7 389.9,524.6 390.4,524.4 390.9,524.3 391.4,524.1 391.9,524.0 392.4,523.8 392.9,523.6 393.4,523.5 393.9,523.3 394.4,523.2 394.9,523.0 395.4,522.9 395.9,522.7 396.4,522.6 396.9,522.4 397.4,522.3 397.9,522.1 398.4,521.9 398.9,521.8 399.4,521.6 399.9,521.5 400.4,521.3 400.9,521.1 401.4,521.0 401.9,520.8 402.4,520.6 402.9,520.5 403.4,520.3 403.9,520.2 404.4,520.0 404.9,519.8 405.4,519.7 405.9,519.5 406.4,519.3 406.9,519.2 407.4,519.0 407.9,518.8 408.4,518.7 408.9,518.5 409.4,518.3 409.9,518.2 410.4,518.0 410.9,517.8 411.4,517.7 411.9,517.5 412.4,517.3 412.9,517.2 413.4,517.0 413.9,516.8 414.4,516.6 414.9,516.5 415.4,516.3 415.9,516.1 416.4,516.0 416.9,515.8 417.4,515.6 417.9,515.5 418.4,515.3 418.9,515.1 419.4,515.0 419.9,514.8 420.4,514.6 420.9,514.5 421.4,514.3 421.9,514.1 422.4,514.0 422.9,513.8 423.4,513.6 423.9,513.5 424.4,513.3 424.9,513.1 425.4,513.0 425.9,512.8 426.4,512.7 426.9,512.5 427.4,512.3 427.9,512.2 428.4,512.0 428.9,511.8 429.4,511.7 429.9,511.5 430.4,511.4 430.9,511.2 431.4,511.0 431.9,510.9 432.4,510.7 432.9,510.6 433.4,510.4 433.9,510.2 434.4,510.1 434.9,509.9 435.4,509.8 435.9,509.6 436.4,509.5 436.9,509.3 437.4,509.1 437.9,509.0 438.4,508.8 438.9,508.7 439.4,508.5 439.9,508.4 440.4,508.2 440.9,508.0 441.4,507.9 441.9,507.7 442.4,507.6 442.9,507.4 443.4,507.3 443.9,507.1 444.4,507.0 444.9,506.8 445.4,506.7 445.9,506.5 446.4,506.4 446.9,506.2 447.4,506.1 447.9,505.9 448.4,505.7 448.9,505.6 449.4,505.4 449.9,505.3 450.4,505.1 450.9,505.0 451.4,504.8 451.9,504.7 452.4,504.5 452.9,504.4 453.4,504.2 453.9,504.0 454.4,503.9 454.9,503.7 455.4,503.6 455.9,503.4 456.4,503.3 456.9,503.1 457.4,502.9 457.9,502.8 458.4,502.6 458.9,502.5 459.4,502.3 459.9,502.1 460.4,502.0 460.9,501.8 461.4,501.7 461.9,501.5 462.4,501.3 462.9,501.2 463.4,501.0 463.9,500.8 464.4,500.7 464.9,500.5 465.4,500.3 465.9,500.2 466.4,500.0 466.9,499.8 467.4,499.6 467.9,499.5 468.4,499.3 468.9,499.1 469.4,498.9 469.9,498.8 470.4,498.6 470.9,498.4 471.4,498.2 471.9,498.1 472.4,497.9 472.9,497.7 473.4,497.5 473.9,497.3 474.4,497.2 474.9,497.0 475.4,496.8 475.9,496.6 476.4,496.4 476.9,496.2 477.4,496.1 477.9,495.9 478.4,495.7 478.9,495.5 479.4,495.3 479.9,495.1 480.4,494.9 480.9,494.7 481.4,494.6 481.9,494.4 482.4,494.2 482.9,494.0 483.4,493.8 483.9,493.6 484.4,493.4 484.9,493.2 485.4,493.0 485.9,492.8 486.4,492.6 486.9,492.4 487.4,492.2 487.9,492.0 488.4,491.8 488.9,491.6 489.4,491.4 489.9,491.2 490.4,491.0 490.9,490.8 491.4,490.6 491.9,490.4 492.4,490.2 492.9,490.0 493.4,489.8 493.9,489.6 494.4,489.4 494.9,489.2 495.4,489.0 495.9,488.8 496.4,488.6 496.9,488.4 497.4,488.2 497.9,488.0 498.4,487.8 498.9,487.6 499.4,487.4 499.9,487.2 500.4,487.0 500.9,486.8 501.4,486.6 501.9,486.4 502.4,486.2 502.9,486.0 503.4,485.7 503.9,485.5 504.4,485.3 504.9,485.1 505.4,484.9 505.9,484.7 506.4,484.5 506.9,484.3 507.4,484.1 507.9,483.9 508.4,483.7 508.9,483.5 509.4,483.3 509.9,483.1 510.4,482.9 510.9,482.7 511.4,482.5 511.9,482.3 512.4,482.1 512.9,481.9 513.4,481.7 513.9,481.5 514.4,481.3 514.9,481.1 515.4,480.9 515.9,480.7 516.4,480.5 516.9,480.3 517.4,480.1 517.9,479.9 518.4,479.7 518.9,479.5 519.4,479.3 519.9,479.1 520.4,478.9 520.9,478.7 521.4,478.5 521.9,478.3 522.4,478.1 522.9,477.9 523.4,477.7 523.9,477.5 524.4,477.3 524.9,477.1 525.4,476.9 525.9,476.7 526.4,476.5 526.9,476.3 527.4,476.1 527.9,475.9 528.4,475.8 528.9,475.6 529.4,475.4 529.9,475.2 530.4,475.0 530.9,474.8 531.4,474.6 531.9,474.4 532.4,474.2 532.9,474.0 533.4,473.9 533.9,473.7 534.4,473.5 534.9,473.3 535.4,473.1 535.9,472.9 536.4,472.7 536.9,472.6 537.4,472.4 537.9,472.2 538.4,472.0 538.9,471.8 539.4,471.7 539.9,471.5 540.4,471.3 540.9,471.1 541.4,471.0 541.9,470.8 542.4,470.6 542.9,470.5 543.4,470.3 543.9,470.1 544.4,470.0 544.9,469.8 545.4,469.6 545.9,469.5 546.4,469.3 546.9,469.1 547.4,469.0 547.9,468.8 548.4,468.7 548.9,468.5 549.4,468.3 549.9,468.2 550.4,468.0 550.9,467.9 551.4,467.7 551.9,467.6 552.4,467.4 552.9,467.3 553.4,467.1 553.9,467.0 554.4,466.8 554.9,466.7 555.4,466.5 555.9,466.4 556.4,466.2 556.9,466.1 557.4,465.9 557.9,465.8 558.4,465.7 558.9,465.5 559.4,465.4 559.9,465.2 560.4,465.1 560.9,465.0 561.4,464.8 561.9,464.7 562.4,464.5 562.9,464.4 563.4,464.3 563.9,464.1 564.4,464.0 564.9,463.9 565.4,463.7 565.9,463.6 566.4,463.5 566.9,463.4 567.4,463.2 567.9,463.1 568.4,463.0 568.9,462.8 569.4,462.7 569.9,462.6 570.4,462.4 570.9,462.3 571.4,462.2 571.9,462.1 572.4,461.9 572.9,461.8 573.4,461.7 573.9,461.5 574.4,461.4 574.9,461.3 575.4,461.1 575.9,461.0 576.4,460.9 576.9,460.8 577.4,460.6 577.9,460.5 578.4,460.4 578.9,460.2 579.4,460.1 579.9,460.0 580.4,459.8 580.9,459.7 581.4,459.5 581.9,459.4 582.4,459.3 582.9,459.1 583.4,459.0 583.9,458.9 584.4,458.7 584.9,458.6 585.4,458.4 585.9,458.3 586.4,458.1 586.9,458.0 587.4,457.9 587.9,457.7 588.4,457.6 588.9,457.4 589.4,457.3 589.9,457.1 590.4,457.0 590.9,456.8 591.4,456.7 591.9,456.5 592.4,456.3 592.9,456.2 593.4,456.0 593.9,455.9 594.4,455.7 594.9,455.5 595.4,455.4 595.9,455.2 596.4,455.0 596.9,454.9 597.4,454.7 597.9,454.5 598.4,454.4 598.9,454.2 599.4,454.0 599.9,453.8 600.4,453.7 600.9,453.5 601.4,453.3 601.9,453.1 602.4,452.9 602.9,452.7 603.4,452.6 603.9,452.4 604.4,452.2 604.9,452.0 605.4,451.8 605.9,451.6 606.4,451.4 606.9,451.2 607.4,451.0 607.9,450.8 608.4,450.6 608.9,450.4 609.4,450.2 609.9,450.0 610.4,449.8 610.9,449.6 611.4,449.4 611.9,449.2 612.4,449.0 612.9,448.8 613.4,448.5 613.9,448.3 614.4,448.1 614.9,447.9 615.4,447.7 615.9,447.5 616.4,447.3 616.9,447.0 617.4,446.8 617.9,446.6 618.4,446.4 618.9,446.2 619.4,445.9 619.9,445.7 620.4,445.5 620.9,445.3 621.4,445.0 621.9,444.8 622.4,444.6 622.9,444.4 623.4,444.1 623.9,443.9 624.4,443.7 624.9,443.5 625.4,443.2 625.9,443.0 626.4,442.8 626.9,442.5 627.4,442.3 627.9,442.1 628.4,441.9 628.9,441.6 629.4,441.4 629.9,441.2 630.4,441.0 630.9,440.8 631.4,440.5 631.9,440.3 632.4,440.1 632.9,439.9 633.4,439.7 633.9,439.5 634.4,439.2 634.9,439.0 635.4,438.8 635.9,438.6 636.4,438.4 636.9,438.2 637.4,438.0 637.9,437.7 638.4,437.5 638.9,437.3 639.4,437.1 639.9,436.8 640.4,436.6 640.9,436.4 641.4,436.2 641.9,435.9 642.4,435.7 642.9,435.5 643.4,435.3 643.9,435.0 644.4,434.8 644.9,434.6 645.4,434.4 645.9,434.1 646.4,433.9 646.9,433.7 647.4,433.5 647.9,433.3 648.4,433.0 648.9,432.8 649.4,432.6 649.9,432.4 650.4,432.2 650.9,432.0 651.4,431.8 651.9,431.5 652.4,431.3 652.9,431.1 653.4,430.9 653.9,430.7 654.4,430.5 654.9,430.3 655.4,430.1 655.9,429.9 656.4,429.7 656.9,429.5 657.4,429.3 657.9,429.1 658.4,428.9 658.9,428.7 659.4,428.6 659.9,428.4 660.4,428.2 660.9,428.0 661.4,427.9 661.9,427.7 662.4,427.5 662.9,427.4 663.4,427.2 663.9,427.1 664.4,426.9 664.9,426.8 665.4,426.7 665.9,426.5 666.4,426.4 666.9,426.3 667.4,426.2 667.9,426.1 668.4,426.0 668.9,426.0 669.4,425.9 669.9,425.8 670.4,425.8 670.9,425.7 671.4,425.7 671.9,425.7 672.4,425.6 672.9,425.6 673.4,425.6 673.9,425.6 674.4,425.6 674.9,425.6 675.4,425.6 675.9,425.6 676.4,425.6 676.9,425.6 677.4,425.6 677.9,425.6 678.4,425.6 678.9,425.6 679.4,425.6 679.9,425.7 680.4,425.7 680.9,425.7 681.4,425.7 681.9,425.6 682.4,425.6 682.9,425.6 683.4,425.6 683.9,425.6 684.4,425.6 684.9,425.6 685.4,425.6 685.9,425.6 686.4,425.6 686.9,425.5 687.4,425.5 687.9,425.5 688.2,425.5 688.7,426.6 689.2,427.8 689.7,428.9 690.2,429.2 690.7,429.4 691.2,429.7 691.7,429.9 692.2,430.2 692.7,430.4 693.2,430.7 693.7,430.9 694.2,431.1 694.7,431.4 695.2,431.6 695.7,431.8 696.2,432.1 696.7,432.3 697.2,432.5 697.7,432.7 698.2,432.9 698.7,433.2 699.2,433.4 699.7,433.6 700.2,433.8 700.7,434.0 701.2,434.2 701.7,434.5 702.2,434.7 702.7,434.9 703.2,435.2 703.7,435.4 704.2,435.6 704.7,435.9 705.2,436.1 705.7,436.4 706.2,436.7 706.7,436.9 707.2,437.2 707.7,437.5 708.2,437.8 708.7,438.1 709.2,438.4 709.7,438.7 710.2,439.0 710.7,439.3 711.2,439.6 711.7,439.9 712.2,440.2 712.7,440.6 713.2,440.9 713.7,441.3 714.2,441.6 714.7,442.0 715.2,442.3 715.7,442.7 716.2,443.0 716.7,443.4 717.2,443.8 717.7,444.2 718.2,444.6 718.7,445.0 719.2,445.4 719.7,445.8 720.2,446.2 720.7,446.6 721.2,447.0 721.7,447.4 722.2,447.8 722.7,448.2 723.2,448.7 723.7,449.1 724.2,449.5 724.7,450.0 725.2,450.4 725.7,450.8 726.2,451.3 726.7,451.7 727.2,452.1 727.7,452.6 728.2,453.0 728.7,453.5 729.2,453.9 729.7,454.4 730.2,454.8 730.7,455.3 731.2,455.7 731.7,456.2 732.2,456.6 732.7,457.1 733.2,457.5 733.7,458.0 734.2,458.4 734.7,458.9 735.2,459.3 735.7,459.8 736.2,460.3 736.7,460.7 737.2,461.2 737.7,461.7 738.2,462.1 738.7,462.6 739.2,463.1 739.7,463.6 740.2,464.1 740.7,464.6 741.2,465.1 741.7,465.7 742.2,466.2 742.7,466.8 743.2,467.3 743.7,467.9 744.2,468.4 744.7,469.0 745.2,469.6 745.7,470.2 746.2,470.8 746.7,471.4 747.2,472.0 747.7,472.6 748.2,473.2 748.7,473.8 749.2,474.4 749.7,475.0 750.2,475.6 750.7,476.3 751.2,476.9 751.7,477.5 752.2,478.1 752.7,478.7 753.2,479.4 753.7,480.0 754.2,480.6 754.7,481.2 755.2,481.8 755.7,482.4 756.2,483.0 756.7,483.6 757.2,484.2 757.7,484.8 758.2,485.4 758.7,486.0 759.2,486.5 759.7,487.1 760.2,487.7 760.7,488.2 761.2,488.8 761.7,489.3 762.2,489.9 762.7,490.4 763.2,490.9 763.7,491.5 764.2,492.0 764.7,492.5 765.2,493.0 765.7,493.5 766.2,494.0 766.7,494.5 767.2,495.0 767.7,495.5 768.2,496.0 768.7,496.4 769.2,496.9 769.7,497.3 770.2,497.8 770.7,498.2 771.2,498.7 771.7,499.1 772.2,499.5 772.7,499.9 773.2,500.3 773.7,500.7 774.2,501.1 774.7,501.5 775.2,501.9 775.7,502.2 776.2,502.6 776.7,503.0 777.2,503.3 777.7,503.6 778.2,504.0 778.7,504.3 779.2,504.6 779.7,504.9 780.2,505.2 780.7,505.5 781.2,505.8 781.7,506.0 782.2,506.3 782.7,506.6 783.2,506.8 783.7,507.0 784.2,507.3 784.7,507.5 785.2,507.7 785.7,507.9 786.2,508.2 786.7,508.4 787.2,508.5 787.7,508.7 788.2,508.9 788.7,509.1 789.2,509.2 789.7,509.4 790.2,509.5 790.7,509.7 791.2,509.8 791.7,509.9 792.2,510.1 792.7,510.2 793.2,510.3 793.7,510.3 794.2,510.4 794.7,510.5 795.2,510.6 795.7,510.6 796.2,510.7 796.7,510.7 797.2,510.7 797.7,510.8 798.2,510.8 798.7,510.8 799.2,510.8 799.7,510.8 800.2,510.7 800.7,510.7 801.2,510.7 801.7,510.7 802.2,510.6 802.7,510.6 803.2,510.5 803.7,510.4 804.2,510.4 804.7,510.3 805.2,510.2 805.7,510.1 806.2,510.0 806.7,509.9 807.2,509.8 807.7,509.7 808.2,509.6 808.7,509.5 809.2,509.4 809.7,509.2 810.2,509.1 810.7,508.9 811.2,508.7 811.7,508.6 812.2,508.4 812.7,508.2 813.2,508.0 813.7,507.8 814.2,507.6 814.7,507.4 815.2,507.2 815.7,506.9 816.2,506.7 816.7,506.4 817.2,506.2 817.7,505.9 818.2,505.6 818.7,505.4 819.2,505.1 819.7,504.8 820.2,504.5 820.7,504.2 821.2,503.8 821.7,503.5 822.2,503.2 822.7,502.8 823.2,502.5 823.7,502.1 824.2,501.8 824.7,501.4 825.2,501.0 825.7,500.6 826.2,500.2 826.7,499.8 827.2,499.4 827.7,499.0 828.2,498.6 828.7,498.1 829.2,497.7 829.7,497.2 830.2,496.8 830.7,496.3 831.2,495.8 831.7,495.4 832.2,494.9 832.7,494.4 833.2,493.9 833.7,493.4 834.2,492.9 834.7,492.4 835.2,491.8 835.7,491.3 836.2,490.8 836.7,490.2 837.2,489.7 837.7,489.1 838.2,488.5 838.7,487.9 839.2,487.2 839.7,486.6 840.2,485.9 840.7,485.3 841.2,484.6 841.7,483.9 842.2,483.1 842.7,482.3 843.2,481.6 843.7,480.7 844.2,479.9 844.7,479.0 845.2,478.0 845.7,477.0 846.2,476.0 846.7,474.9 847.2,473.7 847.7,472.5 848.2,471.2 848.7,469.8 849.2,468.4 849.7,466.9 850.2,465.3 850.7,463.7 851.2,462.0 851.7,460.3 852.2,458.6 852.7,456.7 853.2,454.9 853.7,453.0 854.2,451.0 854.7,449.0 855.2,446.9 855.7,444.7 856.2,442.5 856.7,440.3 857.2,437.9 857.7,435.6 858.2,433.1 858.7,430.6 859.2,428.1 859.7,425.6 860.2,423.1 860.7,420.5 861.2,418.0 861.7,415.4 862.2,412.8 862.7,410.2 863.2,407.6 863.7,404.9 864.2,402.2 864.7,399.5 865.2,396.8 865.7,394.0 866.2,391.1 866.7,388.3 867.2,385.4 867.7,382.5 868.2,379.7 868.7,376.9 869.2,374.2 869.7,371.6 870.2,369.2 870.7,367.0 871.2,364.9 871.7,363.0 872.2,361.3 872.7,359.8 873.2,358.5 873.7,357.5 874.2,356.6 874.7,356.0 875.2,355.6 875.7,355.5 876.2,355.6 876.7,355.9 877.2,356.5 877.7,357.3 878.2,358.3 878.7,359.6 879.2,361.0 879.7,362.8 880.2,364.7 880.7,366.8 881.2,369.1 881.7,371.6 882.2,374.3 882.7,377.1 883.2,380.1 883.7,383.2 884.2,386.4 884.7,389.7 885.2,393.1 885.7,396.5 886.2,400.0 886.7,403.5 887.2,407.0 887.7,410.6 888.2,414.1 888.7,417.6 889.2,421.1 889.7,424.6 890.2,428.0 890.7,431.4 891.2,434.6 891.7,437.7 892.2,440.7 892.7,443.6 893.2,446.4 893.7,449.0 894.2,451.5 894.7,453.8 895.2,456.1 895.7,458.2 896.2,460.3 896.7,462.2 897.2,463.9 897.7,465.5 898.2,467.0 898.7,468.4 899.2,469.7 899.7,470.8 900.2,471.9 900.7,472.9 901.2,473.9 901.7,474.7 902.2,475.6 902.7,476.3 903.2,477.0 903.7,477.7 904.2,478.4 904.7,479.0 905.2,479.6 905.7,480.1 906.2,480.7 906.7,481.2 907.2,481.7 907.7,482.3 908.2,482.7 908.7,483.2 909.2,483.7 909.7,484.2 910.2,484.6 910.7,485.0 911.2,485.5 911.7,485.9 912.2,486.3 912.7,486.7 913.2,487.1 913.7,487.5 914.2,487.9 914.7,488.3 915.2,488.7 915.7,489.1 916.2,489.4 916.7,489.8 917.2,490.2 917.7,490.6 918.2,490.9 918.7,491.3 919.2,491.7 919.7,492.1 920.2,492.5 920.7,492.9 921.2,493.3 921.7,493.8 922.2,494.2 922.7,494.6 923.2,495.1 923.7,495.6 924.2,496.1 924.7,496.6 925.2,497.1 925.7,497.6 926.2,498.1 926.7,498.6 927.2,499.2 927.7,499.7 928.2,500.2 928.7,500.8 929.2,501.4 929.7,501.9 930.2,502.5 930.7,503.1 931.2,503.6 931.7,504.2 932.2,504.8 932.7,505.4 933.2,506.0 933.7,506.5 934.2,507.1 934.7,507.7 935.2,508.3 935.7,508.9 936.2,509.4 936.7,510.0 937.2,510.6 937.7,511.2 938.2,511.8 938.7,512.4 939.2,513.0 939.7,513.6 940.2,514.2 940.7,514.8 941.2,515.4 941.7,516.0 942.2,516.6 942.7,517.2 943.2,517.9 943.7,518.5 944.2,519.2 944.7,519.9 945.2,520.5 945.7,521.2 946.2,521.9 946.7,522.7 947.2,523.4 947.7,524.2 948.2,524.9 948.7,525.7 949.2,526.5 949.7,527.3 950.2,528.1 950.7,528.9 951.2,529.7 951.7,530.6 952.2,531.4 952.7,532.3 953.2,533.1 953.7,534.0 954.2,534.8 954.7,535.7 955.2,536.5 955.7,537.4 956.2,538.2 956.7,539.1 957.2,539.9 957.7,540.8 958.2,541.6 958.7,542.4 959.2,543.2 959.7,544.0 960.2,544.8 960.7,545.6 961.2,546.3 961.7,547.0 962.2,547.7 962.7,548.4 963.2,549.0 963.7,549.6 964.2,550.2 964.7,550.8 965.2,551.3 965.7,551.8 966.2,552.3 966.7,552.7 967.2,553.2 967.7,553.6 968.2,553.9 968.7,554.3 969.2,554.6 969.7,554.9 970.2,555.2 970.7,555.4 971.2,555.7 971.7,555.9 972.2,556.1 972.7,556.3 973.2,556.5 973.7,556.6 974.2,556.8 974.7,556.9 975.2,557.0 975.7,557.1 976.2,557.2 976.7,557.3 977.2,557.4 977.7,557.5 978.2,557.6 978.7,557.7 979.2,557.7 979.6,557.8 980.1,557.7 980.6,557.7 981.1,557.7 981.6,557.7 982.1,557.6 982.6,557.6 983.1,557.6 983.6,557.6 984.1,557.6 984.6,557.6 985.1,557.6 985.6,557.6 986.1,557.6 986.6,557.6 987.1,557.5 987.6,557.5 988.1,557.5 988.6,557.5 989.1,557.5 989.6,557.5 990.1,557.5 990.6,557.5 991.1,557.5 991.6,557.5 992.1,557.5 992.6,557.5 993.1,557.5 993.6,557.5 994.1,557.5 994.6,557.5 995.1,557.5 995.6,557.5 996.1,557.5 996.6,557.4 997.1,557.4 997.6,557.4 998.1,557.4 998.6,557.4 999.1,557.4 999.6,557.4 1000.1,557.4 1000.6,557.4 1001.1,557.4 1001.6,557.4 1002.1,557.4 1002.6,557.4 1003.1,557.4 1003.6,557.4 1004.1,557.4 1004.6,557.4 1005.1,557.4 1005.6,557.4 1006.1,557.4 1006.6,557.4 1007.1,557.4 1007.6,557.4 1008.1,557.4 1008.6,557.4 1009.1,557.4 1009.6,557.4 1010.1,557.4 1010.6,557.4 1011.1,557.4 1011.6,557.4 1012.1,557.4 1012.6,557.4 1013.1,557.4 1013.6,557.4 1014.1,557.4 1014.6,557.4 1015.1,557.4 1015.6,557.4 1016.1,557.4 1016.6,557.4 1017.1,557.4 1017.6,557.4 1018.1,557.4 1018.6,557.4 1019.1,557.4 1019.6,557.4 1020.1,557.4 1020.6,557.4 1021.1,557.4 1021.6,557.4 1022.1,557.4 1022.6,557.4 1023.1,557.4 1023.6,557.4 1024.1,557.4 1024.6,557.4 1025.1,557.4 1025.6,557.4 1026.1,557.4 1026.6,557.4 1027.1,557.4 1027.6,557.4 1028.1,557.4 1028.6,557.4 1029.1,557.4 1029.6,557.4 1030.1,557.4 1030.6,557.4 1031.1,557.4 1031.6,557.4 1032.1,557.4 1032.6,557.4 1033.1,557.5 1033.6,557.5 1034.1,557.5 1034.6,557.5 1035.1,557.5 1035.6,557.5 1036.1,557.5 1036.6,557.5 1037.1,557.5 1037.6,557.5 1038.1,557.5 1038.6,557.5 1039.1,557.5 1039.6,557.5 1040.1,557.5 1040.6,557.5 1041.1,557.5 1041.6,557.5 1042.1,557.5 1042.6,557.5 1043.1,557.5 1043.6,557.5 1044.1,557.5 1044.6,557.5 1045.1,557.4 1045.6,557.4 1046.1,557.4 1046.6,557.4 1047.1,557.4 1047.6,557.4 1048.1,557.4 1048.6,557.4 1049.1,557.4 1049.6,557.4 1050.1,557.4 1050.6,557.4 1051.1,557.4 1051.6,557.4 1052.1,557.4 1052.6,557.4 1053.1,557.4 1053.6,557.4 1054.1,557.4 1054.6,557.4 1055.1,557.4 1055.6,557.3 1056.1,557.3 1056.6,557.3 1057.1,557.3 1057.6,557.3 1058.1,557.3 1058.6,557.3 1059.1,557.3 1059.6,557.3 1060.1,557.3 1060.6,557.2 1061.1,557.2 1061.6,557.2 1062.1,557.2 1062.6,557.2 1063.1,557.2 1063.6,557.2 1064.1,557.2 1064.6,557.1 1065.1,557.1 1065.6,557.1 1066.1,557.1 1066.6,557.1 1067.1,557.1 1067.6,557.0 1068.1,557.0 1068.6,557.0 1069.1,557.0 1069.6,557.0 1070.1,557.0 1070.6,556.9 1071.1,556.9 1071.6,556.9 1072.1,556.9 1072.6,556.9 1073.1,556.8 1073.6,556.8 1074.1,556.8 1074.6,556.8 1075.1,556.7 1075.6,556.7 1076.1,556.7 1076.6,556.7 1077.1,556.7 1077.6,556.6 1078.1,556.6 1078.6,556.6 1079.1,556.6 1079.6,556.5 1080.1,556.5 1080.6,556.5 1081.1,556.5 1081.6,556.5 1082.1,556.4 1082.6,556.4 1083.1,556.4 1083.6,556.4 1084.1,556.3 1084.6,556.3 1085.1,556.3 1085.6,556.3 1086.1,556.2 1086.6,556.2 1087.1,556.2 1087.6,556.2 1088.1,556.1 1088.6,556.1 1089.1,556.1 1089.6,556.1 1090.1,556.0 1090.6,556.0 1091.1,556.0 1091.6,556.0 1092.1,555.9 1092.6,555.9 1093.1,555.9 1093.6,555.9 1094.1,555.8 1094.6,555.8 1095.1,555.8 1095.6,555.8 1096.1,555.7 1096.6,555.7 1097.1,555.7 1097.6,555.7 1098.1,555.6 1098.6,555.6 1099.1,555.6 1099.6,555.6 1100.1,555.6 1100.6,555.5 1101.1,555.5 1101.6,555.5 1102.1,555.5 1102.6,555.4 1103.1,555.4 1103.6,555.4 1104.1,555.4 1104.6,555.4 1105.1,555.3 1105.6,555.3 1106.1,555.3 1106.6,555.3 1107.1,555.2 1107.6,555.2 1108.1,555.2 1108.6,555.2 1109.1,555.2 1109.6,555.1 1110.1,555.1 1110.6,555.1 1111.1,555.1 1111.6,555.1 1112.1,555.0 1112.6,555.0 1113.1,555.0 1113.6,555.0 1114.1,555.0 1114.6,554.9 1115.1,554.9 1115.6,554.9 1116.1,554.9 1116.6,554.9 1117.1,554.8 1117.6,554.8 1118.1,554.8 1118.6,554.8 1119.1,554.8 1119.6,554.8 1120.1,554.7 1120.6,554.7 1121.1,554.7 1121.6,554.7 1122.1,554.7 1122.6,554.6 1123.1,554.6 1123.6,554.6 1124.1,554.6 1124.6,554.6 1125.1,554.6 1125.6,554.5 1126.1,554.5 1126.6,554.5 1127.1,554.5 1127.6,554.5 1128.1,554.5 1128.6,554.4 1129.1,554.4 1129.6,554.4 1130.1,554.4 1130.6,554.4 1131.1,554.4 1131.6,554.3 1132.1,554.3 1132.6,554.3 1133.1,554.3 1133.6,554.3 1134.1,554.3 1134.6,554.3 1135.1,554.2 1135.6,554.2 1136.1,554.2 1136.6,554.2 1137.1,554.2 1137.6,554.2 1138.1,554.1 1138.6,554.1 1139.1,554.1 1139.6,554.1 1140.1,554.1 1140.6,554.1 1141.1,554.1 1141.6,554.0 1142.1,554.0 1142.6,554.0 1143.1,554.0 1143.6,554.0 1144.1,554.0 1144.6,554.0 1145.1,554.0 1145.6,553.9 1146.1,553.9 1146.6,553.9 1147.1,553.9 1147.6,553.9 1148.1,553.9 1148.6,553.9 1149.1,553.9 1149.6,553.8 1150.1,553.8 1150.6,553.8 1151.1,553.8 1151.6,553.8 1152.1,553.8 1152.6,553.8 1153.1,553.8 1153.6,553.8 1154.1,553.7 1154.6,553.7 1155.1,553.7 1155.6,553.7 1156.1,553.7 1156.6,553.7 1157.1,553.7 1157.6,553.7 1158.1,553.7 1158.6,553.7 1159.1,553.6 1159.6,553.6 1160.1,553.6 1160.6,553.6 1161.1,553.6 1161.6,553.6 1162.1,553.6 1162.6,553.6 1163.1,553.6 1163.6,553.6 1164.1,553.6 1164.6,553.5 1165.1,553.5 1165.6,553.5 1166.1,553.5 1166.6,553.5 1167.1,553.5 1167.6,553.5 1168.1,553.5 1168.6,553.5 1169.1,553.5 1169.6,553.5 1170.1,553.5 1170.6,553.5 1171.1,553.5 1171.6,553.5 1172.1,553.4 1172.6,553.4 1173.1,553.4 1173.6,553.4 1174.1,553.4 1174.6,553.4 1175.1,553.4 1175.6,553.4 1176.1,553.4 1176.6,553.4 1177.1,553.4 1177.6,553.4 1178.1,553.4 1178.6,553.4 1179.1,553.4 1179.6,553.4 1180.1,553.4 1180.6,553.4 1181.1,553.4 1181.6,553.4 1182.1,553.4 1182.6,553.4 1183.1,553.4 1183.6,553.4 1184.1,553.3 1184.6,553.3 1185.1,553.3 1185.6,553.3 1186.1,553.3 1186.6,553.3 1187.1,553.3 1187.6,553.3 1188.1,553.3 1188.6,553.3 1189.1,553.3 1189.6,553.3 1190.1,553.3 1190.6,553.3 1191.1,553.3 1191.6,553.3 1192.1,553.3 1192.6,553.3 1193.1,553.3 1193.6,553.3 1194.1,553.3 1194.6,553.3 1195.1,553.3 1195.6,553.3 1196.1,553.3 1196.6,553.3 1197.1,553.3 1197.6,553.3 1198.1,553.3 1198.6,553.3 1199.1,553.3 1199.6,553.3 1200.1,553.3 1200.6,553.3 1201.1,553.3 1201.6,553.3 1202.1,553.3 1202.6,553.3 1203.1,553.3 1203.6,553.3 1204.1,553.3 1204.6,553.3 1205.1,553.3 1205.6,553.3 1206.1,553.3 1206.6,553.4 1207.1,553.4 1207.6,553.4 1208.1,553.4 1208.6,553.4 1209.1,553.4 1209.6,553.4 1210.1,553.4 1210.6,553.4 1211.1,553.4 1211.6,553.4 1212.1,553.4 1212.6,553.4 1213.1,553.4 1213.6,553.4 1214.1,553.4 1214.6,553.4 1215.1,553.4 1215.6,553.4 1216.1,553.4 1216.6,553.4 1217.1,553.4 1217.6,553.4 1218.1,553.4 1218.6,553.4 1219.1,553.4 1219.6,553.4 1220.1,553.5 1220.6,553.5 1221.1,553.5 1221.6,553.5 1222.1,553.5 1222.6,553.5 1223.1,553.5 1223.6,553.5 1224.1,553.5 1224.6,553.5 1225.1,553.5 1225.6,553.5 1226.1,553.5 1226.6,553.5 1227.1,553.5 1227.6,553.5 1228.1,553.5 1228.6,553.5 1229.1,553.5 1229.6,553.6 1230.1,553.6 1230.6,553.6 1231.1,553.6 1231.6,553.6 1232.1,553.6 1232.6,553.6 1233.1,553.6 1233.6,553.6 1234.1,553.6 1234.6,553.6 1235.1,553.6 1235.6,553.6 1236.1,553.6 1236.6,553.6 1237.1,553.7 1237.6,553.7 1238.1,553.7 1238.6,553.7 1239.1,553.7 1239.6,553.7 1240.1,553.7 1240.6,553.7 1241.1,553.7 1241.6,553.7 1242.1,553.7 1242.6,553.7 1243.1,553.7 1243.6,553.8 1244.1,553.8 1244.6,553.8 1245.1,553.8 1245.6,553.8 1246.1,553.8 1246.6,553.8 1247.1,553.8 1247.6,553.8 1248.1,553.8 1248.6,553.8 1249.1,553.8 1249.6,553.9 1250.1,553.9 1250.6,553.9 1251.1,553.9 1251.6,553.9 1252.1,553.9 1252.6,553.9 1253.1,553.9 1253.6,553.9 1254.1,553.9 1254.6,553.9 1255.1,553.9 1255.6,554.0 1256.1,554.0 1256.6,554.0 1257.1,554.0 1257.6,554.0 1258.1,554.0 1258.6,554.0 1259.1,554.0 1259.6,554.0 1260.1,554.0 1260.6,554.0 1261.1,554.1 1261.6,554.1 1262.1,554.1 1262.6,554.1 1263.1,554.1 1263.6,554.1 1264.1,554.1 1264.6,554.1 1265.1,554.1 1265.6,554.1 1266.1,554.2 1266.6,554.2 1267.1,554.2 1267.6,554.2 1268.1,554.2 1268.6,554.2 1269.1,554.2 1269.6,554.2 1270.1,554.2 1270.6,554.2 1271.1,554.2 1271.6,554.3 1272.1,554.3 1272.6,554.3 1273.1,554.3 1273.6,554.3 1274.1,554.3 1274.6,554.3 1275.1,554.3 1275.6,554.3 1276.1,554.3 1276.6,554.4 1277.1,554.4 1277.6,554.4 1278.1,554.4 1278.6,554.4 1279.1,554.4 1279.6,554.4 1280.1,554.4 1280.6,554.4 1281.1,554.4 1281.6,554.5 1282.1,554.5 1282.6,554.5 1283.1,554.5 1283.4,554.5"/>
</g>
<g stroke="#000" stroke-width="3.2" fill="none">
<line x1="50.8" y1="639.9" x2="1284.2" y2="639.9"/>
<line x1="52.9" y1="639" x2="52.9" y2="658.6" /><line x1="189.5" y1="639" x2="189.5" y2="658.6" /><line x1="326.2" y1="639" x2="326.2" y2="658.6" /><line x1="462.9" y1="639" x2="462.9" y2="658.6" /><line x1="599.5" y1="639" x2="599.5" y2="658.6" /><line x1="736.2" y1="639" x2="736.2" y2="658.6" /><line x1="872.9" y1="639" x2="872.9" y2="658.6" /><line x1="1009.5" y1="639" x2="1009.5" y2="658.6" /><line x1="1146.2" y1="639" x2="1146.2" y2="658.6" /><line x1="1282.9" y1="639" x2="1282.9" y2="658.6" /><line x1="121.2" y1="639" x2="121.2" y2="649.8" /><line x1="257.9" y1="639" x2="257.9" y2="649.8" /><line x1="394.5" y1="639" x2="394.5" y2="649.8" /><line x1="531.2" y1="639" x2="531.2" y2="649.8" /><line x1="667.9" y1="639" x2="667.9" y2="649.8" /><line x1="804.5" y1="639" x2="804.5" y2="649.8" /><line x1="941.2" y1="639" x2="941.2" y2="649.8" /><line x1="1077.9" y1="639" x2="1077.9" y2="649.8" /><line x1="1214.5" y1="639" x2="1214.5" y2="649.8" />
</g>
<g class="s" font-size="39.5" fill="#000" stroke="#fff" stroke-width="0.5">
<text transform="translate(23.71 700.60) scale(1 1.070)">-</text><text transform="translate(36.86 700.60) scale(1 1.070)">2</text><text transform="translate(58.83 700.60) scale(1 1.070)">0</text><text transform="translate(177.94 700.60) scale(1 1.070)">0</text><text transform="translate(303.63 700.60) scale(1 1.070)">2</text><text transform="translate(325.59 700.60) scale(1 1.070)">0</text><text transform="translate(440.30 700.60) scale(1 1.070)">4</text><text transform="translate(462.26 700.60) scale(1 1.070)">0</text><text transform="translate(576.97 700.60) scale(1 1.070)">6</text><text transform="translate(598.93 700.60) scale(1 1.070)">0</text><text transform="translate(713.64 700.60) scale(1 1.070)">8</text><text transform="translate(735.60 700.60) scale(1 1.070)">0</text><path d="M763 0H583V1147Q518 1085 412 1023T223 929V1103Q375 1174 489 1275T650 1466H763V0Z" stroke-width="25.9" transform="translate(839.33 700.60) scale(0.01929 -0.01948)"/><text transform="translate(861.29 700.60) scale(1 1.070)">0</text><text transform="translate(883.25 700.60) scale(1 1.070)">0</text><path d="M763 0H583V1147Q518 1085 412 1023T223 929V1103Q375 1174 489 1275T650 1466H763V0Z" stroke-width="25.9" transform="translate(976.00 700.60) scale(0.01929 -0.01948)"/><text transform="translate(997.96 700.60) scale(1 1.070)">2</text><text transform="translate(1019.92 700.60) scale(1 1.070)">0</text><path d="M763 0H583V1147Q518 1085 412 1023T223 929V1103Q375 1174 489 1275T650 1466H763V0Z" stroke-width="25.9" transform="translate(1112.67 700.60) scale(0.01929 -0.01948)"/><text transform="translate(1134.63 700.60) scale(1 1.070)">4</text><text transform="translate(1156.59 700.60) scale(1 1.070)">0</text><path d="M763 0H583V1147Q518 1085 412 1023T223 929V1103Q375 1174 489 1275T650 1466H763V0Z" stroke-width="25.9" transform="translate(1249.34 700.60) scale(0.01929 -0.01948)"/><text transform="translate(1271.30 700.60) scale(1 1.070)">6</text><text transform="translate(1293.26 700.60) scale(1 1.070)">0</text>
</g>
<g font-size="42" fill="#000" stroke="#fff" stroke-width="0.5">
<text class="s" letter-spacing="1.5" transform="translate(1169.5 151.8) scale(1 1.065)">80</text><text class="r" x="1230" y="151.0">°</text><text class="r" font-size="43.5" x="1245.4" y="152.0">C</text>
<text class="s" letter-spacing="1.5" transform="translate(1173 305.5) scale(1 1.065)">50</text><text class="r" x="1234" y="304.7">°</text><text class="r" font-size="43.5" x="1249.0" y="305.7">C</text>
<text class="s" letter-spacing="1.5" transform="translate(1174 539.5) scale(1 1.065)">25</text><text class="r" x="1234.2" y="538.7">°</text><text class="r" font-size="43.5" x="1249.4" y="539.7">C</text>
</g>
<g font-size="44.5" fill="#000" stroke="#fff" stroke-width="0.5">
<text class="s" x="499" y="770.5" textLength="252.5">Temperature</text>
<text class="r" font-size="41" x="764.4" y="769.2">(</text>
<text class="r" font-size="41" x="777.6" y="768.4">°</text>
<text class="r" font-size="44.5" x="793" y="770.4">C</text>
<text class="r" font-size="41" x="821.3" y="769.2">)</text>
</g>
</svg>
</body></html>
